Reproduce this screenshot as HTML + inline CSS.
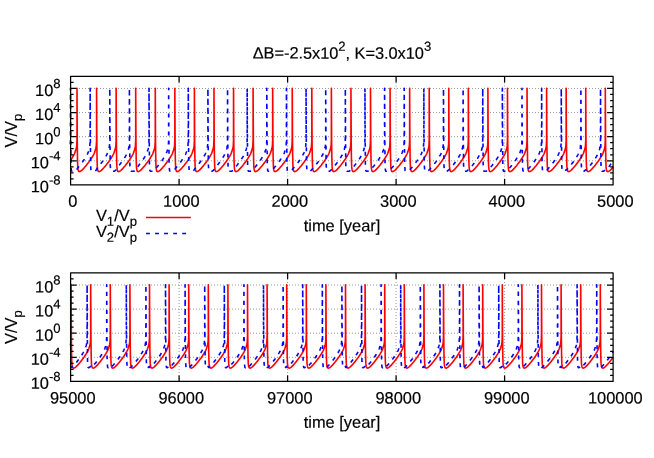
<!DOCTYPE html>
<html><head><meta charset="utf-8"><title>plot</title>
<style>
html,body{margin:0;padding:0;background:#fff}
svg{display:block;will-change:transform}
text{font-family:"Liberation Sans",sans-serif;font-size:16.4px;fill:#000;stroke:#000;stroke-width:.18}
.g{fill:none;stroke:#999;stroke-width:1;stroke-dasharray:1 2;stroke-dashoffset:.6}
.r{fill:none;stroke:#f00;stroke-width:1.6;stroke-linejoin:round}
.b{fill:none;stroke:#00f;stroke-width:1.6;stroke-dasharray:3.9 5.15;stroke-linejoin:round}
.k{fill:none;stroke:#000;stroke-width:1.25;stroke-linejoin:round}
</style></head><body>
<svg width="654" height="458" viewBox="0 0 654 458">
<rect width="654" height="458" fill="#fff"/>
<text transform="translate(341.9 58.7) rotate(0.1)" text-anchor="middle" letter-spacing="-0.05">ΔB=-2.5x10<tspan dy="-8.0" font-size="13.1">2</tspan><tspan dy="8.0">, K=3.0x10</tspan><tspan dy="-8.0" font-size="13.1">3</tspan></text>
<path d="M70.6 88.46H613.1" class="g"/>
<path d="M70.6 112.57H613.1" class="g"/>
<path d="M70.6 136.68H613.1" class="g"/>
<path d="M70.6 160.79H613.1" class="g"/>
<path d="M179.1 184.9V76.4" class="g"/>
<path d="M287.6 184.9V76.4" class="g"/>
<path d="M396.1 184.9V76.4" class="g"/>
<path d="M504.6 184.9V76.4" class="g"/>
<path d="M70.3 160.63L70.49 160.36L70.75 159.97L71.01 159.58L71.27 159.19L71.53 158.79L71.79 158.38L72.05 157.96L72.31 157.54L72.57 157.11L72.83 156.68L73.09 156.23L73.35 155.78L73.61 155.33L73.88 154.89L74.14 154.42L74.4 153.91L74.66 153.3L74.92 152.63L75.18 151.89L75.44 151.09L75.7 150.31L75.96 149.64L76.22 148.82L76.48 147.27L76.74 145.53L77 139.9L77 88.3L77 88.3L77.25 139.9L77.5 159.9L77.75 166.9L78.1 169.7L78.6 171.23L78.86 171.4L79.12 171.52L79.38 171.59L79.64 171.6L79.9 171.52L80.16 171.4L80.42 171.27L80.68 171.13L80.94 170.96L81.2 170.78L81.46 170.58L81.72 170.37L81.99 170.15L82.25 169.91L82.51 169.66L82.77 169.4L83.03 169.14L83.29 168.86L83.55 168.57L83.81 168.28L84.07 167.98L84.33 167.67L84.59 167.38L84.85 167.08L85.11 166.79L85.37 166.5L85.63 166.2L85.89 165.89L86.15 165.57L86.41 165.24L86.67 164.89L86.93 164.54L87.19 164.19L87.45 163.85L87.71 163.51L87.97 163.18L88.23 162.85L88.49 162.52L88.76 162.18L89.02 161.83L89.28 161.48L89.54 161.11L89.8 160.74L90.06 160.36L90.32 159.97L90.58 159.58L90.84 159.19L91.1 158.79L91.36 158.38L91.62 157.96L91.88 157.54L92.14 157.11L92.4 156.68L92.66 156.23L92.92 155.78L93.18 155.33L93.44 154.89L93.7 154.42L93.96 153.91L94.22 153.3L94.48 152.63L94.74 151.89L95 151.09L95.27 150.31L95.53 149.64L95.79 148.82L96.05 147.27L96.31 145.53L96.57 139.9L96.57 88.3L96.57 88.3L96.82 139.9L97.07 159.9L97.32 166.9L97.67 169.7L98.17 171.23L98.43 171.4L98.69 171.52L98.95 171.59L99.21 171.6L99.47 171.52L99.73 171.4L99.99 171.27L100.25 171.13L100.51 170.96L100.77 170.78L101.03 170.58L101.29 170.37L101.55 170.15L101.81 169.91L102.07 169.66L102.33 169.4L102.59 169.14L102.85 168.86L103.11 168.57L103.37 168.28L103.64 167.98L103.9 167.67L104.16 167.38L104.42 167.08L104.68 166.79L104.94 166.5L105.2 166.2L105.46 165.89L105.72 165.57L105.98 165.24L106.24 164.89L106.5 164.54L106.76 164.19L107.02 163.85L107.28 163.51L107.54 163.18L107.8 162.85L108.06 162.52L108.32 162.18L108.58 161.83L108.84 161.48L109.1 161.11L109.36 160.74L109.62 160.36L109.88 159.97L110.15 159.58L110.41 159.19L110.67 158.79L110.93 158.38L111.19 157.96L111.45 157.54L111.71 157.11L111.97 156.68L112.23 156.23L112.49 155.78L112.75 155.33L113.01 154.89L113.27 154.42L113.53 153.91L113.79 153.3L114.05 152.63L114.31 151.89L114.57 151.09L114.83 150.31L115.09 149.64L115.35 148.82L115.61 147.27L115.87 145.53L116.13 139.9L116.13 88.3L116.13 88.3L116.38 139.9L116.63 159.9L116.88 166.9L117.23 169.7L117.73 171.23L117.99 171.4L118.25 171.52L118.52 171.59L118.78 171.6L119.04 171.52L119.3 171.4L119.56 171.27L119.82 171.13L120.08 170.96L120.34 170.78L120.6 170.58L120.86 170.37L121.12 170.15L121.38 169.91L121.64 169.66L121.9 169.4L122.16 169.14L122.42 168.86L122.68 168.57L122.94 168.28L123.2 167.98L123.46 167.67L123.72 167.38L123.98 167.08L124.24 166.79L124.5 166.5L124.76 166.2L125.02 165.89L125.29 165.57L125.55 165.24L125.81 164.89L126.07 164.54L126.33 164.19L126.59 163.85L126.85 163.51L127.11 163.18L127.37 162.85L127.63 162.52L127.89 162.18L128.15 161.83L128.41 161.48L128.67 161.11L128.93 160.74L129.19 160.36L129.45 159.97L129.71 159.58L129.97 159.19L130.23 158.79L130.49 158.38L130.75 157.96L131.01 157.54L131.27 157.11L131.53 156.68L131.8 156.23L132.06 155.78L132.32 155.33L132.58 154.89L132.84 154.42L133.1 153.91L133.36 153.3L133.62 152.63L133.88 151.89L134.14 151.09L134.4 150.31L134.66 149.64L134.92 148.82L135.18 147.27L135.44 145.53L135.7 139.9L135.7 88.3L135.7 88.3L135.95 139.9L136.2 159.9L136.45 166.9L136.8 169.7L137.3 171.23L137.56 171.4L137.82 171.52L138.08 171.59L138.34 171.6L138.6 171.52L138.86 171.4L139.12 171.27L139.38 171.13L139.64 170.96L139.9 170.78L140.17 170.58L140.43 170.37L140.69 170.15L140.95 169.91L141.21 169.66L141.47 169.4L141.73 169.14L141.99 168.86L142.25 168.57L142.51 168.28L142.77 167.98L143.03 167.67L143.29 167.38L143.55 167.08L143.81 166.79L144.07 166.5L144.33 166.2L144.59 165.89L144.85 165.57L145.11 165.24L145.37 164.89L145.63 164.54L145.89 164.19L146.15 163.85L146.41 163.51L146.68 163.18L146.94 162.85L147.2 162.52L147.46 162.18L147.72 161.83L147.98 161.48L148.24 161.11L148.5 160.74L148.76 160.36L149.02 159.97L149.28 159.58L149.54 159.19L149.8 158.79L150.06 158.38L150.32 157.96L150.58 157.54L150.84 157.11L151.1 156.68L151.36 156.23L151.62 155.78L151.88 155.33L152.14 154.89L152.4 154.42L152.66 153.91L152.92 153.3L153.18 152.63L153.45 151.89L153.71 151.09L153.97 150.31L154.23 149.64L154.49 148.82L154.75 147.27L155.01 145.53L155.27 139.9L155.27 88.3L155.27 88.3L155.52 139.9L155.77 159.9L156.02 166.9L156.37 169.7L156.87 171.23L157.13 171.4L157.39 171.52L157.65 171.59L157.91 171.6L158.17 171.52L158.43 171.4L158.69 171.27L158.95 171.13L159.21 170.96L159.47 170.78L159.73 170.58L159.99 170.37L160.25 170.15L160.51 169.91L160.77 169.66L161.03 169.4L161.29 169.14L161.56 168.86L161.82 168.57L162.08 168.28L162.34 167.98L162.6 167.67L162.86 167.38L163.12 167.08L163.38 166.79L163.64 166.5L163.9 166.2L164.16 165.89L164.42 165.57L164.68 165.24L164.94 164.89L165.2 164.54L165.46 164.19L165.72 163.85L165.98 163.51L166.24 163.18L166.5 162.85L166.76 162.52L167.02 162.18L167.28 161.83L167.54 161.48L167.8 161.11L168.06 160.74L168.33 160.36L168.59 159.97L168.85 159.58L169.11 159.19L169.37 158.79L169.63 158.38L169.89 157.96L170.15 157.54L170.41 157.11L170.67 156.68L170.93 156.23L171.19 155.78L171.45 155.33L171.71 154.89L171.97 154.42L172.23 153.91L172.49 153.3L172.75 152.63L173.01 151.89L173.27 151.09L173.53 150.31L173.79 149.64L174.05 148.82L174.31 147.27L174.57 145.53L174.84 139.9L174.84 88.3L174.84 88.3L175.09 139.9L175.34 159.9L175.59 166.9L175.94 169.7L176.44 171.23L176.7 171.4L176.96 171.52L177.22 171.59L177.48 171.6L177.74 171.52L178 171.4L178.26 171.27L178.52 171.13L178.78 170.96L179.04 170.78L179.3 170.58L179.56 170.37L179.82 170.15L180.08 169.91L180.34 169.66L180.6 169.4L180.86 169.14L181.12 168.86L181.38 168.57L181.64 168.28L181.9 167.98L182.16 167.67L182.42 167.38L182.68 167.08L182.94 166.79L183.21 166.5L183.47 166.2L183.73 165.89L183.99 165.57L184.25 165.24L184.51 164.89L184.77 164.54L185.03 164.19L185.29 163.85L185.55 163.51L185.81 163.18L186.07 162.85L186.33 162.52L186.59 162.18L186.85 161.83L187.11 161.48L187.37 161.11L187.63 160.74L187.89 160.36L188.15 159.97L188.41 159.58L188.67 159.19L188.93 158.79L189.19 158.38L189.45 157.96L189.71 157.54L189.98 157.11L190.24 156.68L190.5 156.23L190.76 155.78L191.02 155.33L191.28 154.89L191.54 154.42L191.8 153.91L192.06 153.3L192.32 152.63L192.58 151.89L192.84 151.09L193.1 150.31L193.36 149.64L193.62 148.82L193.88 147.27L194.14 145.53L194.4 139.9L194.4 88.3L194.4 88.3L194.65 139.9L194.9 159.9L195.15 166.9L195.5 169.7L196 171.23L196.26 171.4L196.52 171.52L196.78 171.59L197.04 171.6L197.3 171.52L197.56 171.4L197.82 171.27L198.09 171.13L198.35 170.96L198.61 170.78L198.87 170.58L199.13 170.37L199.39 170.15L199.65 169.91L199.91 169.66L200.17 169.4L200.43 169.14L200.69 168.86L200.95 168.57L201.21 168.28L201.47 167.98L201.73 167.67L201.99 167.38L202.25 167.08L202.51 166.79L202.77 166.5L203.03 166.2L203.29 165.89L203.55 165.57L203.81 165.24L204.07 164.89L204.33 164.54L204.59 164.19L204.86 163.85L205.12 163.51L205.38 163.18L205.64 162.85L205.9 162.52L206.16 162.18L206.42 161.83L206.68 161.48L206.94 161.11L207.2 160.74L207.46 160.36L207.72 159.97L207.98 159.58L208.24 159.19L208.5 158.79L208.76 158.38L209.02 157.96L209.28 157.54L209.54 157.11L209.8 156.68L210.06 156.23L210.32 155.78L210.58 155.33L210.84 154.89L211.1 154.42L211.37 153.91L211.63 153.3L211.89 152.63L212.15 151.89L212.41 151.09L212.67 150.31L212.93 149.64L213.19 148.82L213.45 147.27L213.71 145.53L213.97 139.9L213.97 88.3L213.97 88.3L214.22 139.9L214.47 159.9L214.72 166.9L215.07 169.7L215.57 171.23L215.83 171.4L216.09 171.52L216.35 171.59L216.61 171.6L216.87 171.52L217.13 171.4L217.39 171.27L217.65 171.13L217.91 170.96L218.17 170.78L218.43 170.58L218.69 170.37L218.95 170.15L219.21 169.91L219.47 169.66L219.74 169.4L220 169.14L220.26 168.86L220.52 168.57L220.78 168.28L221.04 167.98L221.3 167.67L221.56 167.38L221.82 167.08L222.08 166.79L222.34 166.5L222.6 166.2L222.86 165.89L223.12 165.57L223.38 165.24L223.64 164.89L223.9 164.54L224.16 164.19L224.42 163.85L224.68 163.51L224.94 163.18L225.2 162.85L225.46 162.52L225.72 162.18L225.98 161.83L226.25 161.48L226.51 161.11L226.77 160.74L227.03 160.36L227.29 159.97L227.55 159.58L227.81 159.19L228.07 158.79L228.33 158.38L228.59 157.96L228.85 157.54L229.11 157.11L229.37 156.68L229.63 156.23L229.89 155.78L230.15 155.33L230.41 154.89L230.67 154.42L230.93 153.91L231.19 153.3L231.45 152.63L231.71 151.89L231.97 151.09L232.23 150.31L232.49 149.64L232.75 148.82L233.02 147.27L233.28 145.53L233.54 139.9L233.54 88.3L233.54 88.3L233.79 139.9L234.04 159.9L234.29 166.9L234.64 169.7L235.14 171.23L235.4 171.4L235.66 171.52L235.92 171.59L236.18 171.6L236.44 171.52L236.7 171.4L236.96 171.27L237.22 171.13L237.48 170.96L237.74 170.78L238 170.58L238.26 170.37L238.52 170.15L238.78 169.91L239.04 169.66L239.3 169.4L239.56 169.14L239.82 168.86L240.08 168.57L240.34 168.28L240.6 167.98L240.86 167.67L241.12 167.38L241.39 167.08L241.65 166.79L241.91 166.5L242.17 166.2L242.43 165.89L242.69 165.57L242.95 165.24L243.21 164.89L243.47 164.54L243.73 164.19L243.99 163.85L244.25 163.51L244.51 163.18L244.77 162.85L245.03 162.52L245.29 162.18L245.55 161.83L245.81 161.48L246.07 161.11L246.33 160.74L246.59 160.36L246.85 159.97L247.11 159.58L247.37 159.19L247.63 158.79L247.9 158.38L248.16 157.96L248.42 157.54L248.68 157.11L248.94 156.68L249.2 156.23L249.46 155.78L249.72 155.33L249.98 154.89L250.24 154.42L250.5 153.91L250.76 153.3L251.02 152.63L251.28 151.89L251.54 151.09L251.8 150.31L252.06 149.64L252.32 148.82L252.58 147.27L252.84 145.53L253.1 139.9L253.1 88.3L253.1 88.3L253.35 139.9L253.6 159.9L253.85 166.9L254.2 169.7L254.7 171.23L254.96 171.4L255.22 171.52L255.48 171.59L255.74 171.6L256 171.52L256.27 171.4L256.53 171.27L256.79 171.13L257.05 170.96L257.31 170.78L257.57 170.58L257.83 170.37L258.09 170.15L258.35 169.91L258.61 169.66L258.87 169.4L259.13 169.14L259.39 168.86L259.65 168.57L259.91 168.28L260.17 167.98L260.43 167.67L260.69 167.38L260.95 167.08L261.21 166.79L261.47 166.5L261.73 166.2L261.99 165.89L262.25 165.57L262.51 165.24L262.78 164.89L263.04 164.54L263.3 164.19L263.56 163.85L263.82 163.51L264.08 163.18L264.34 162.85L264.6 162.52L264.86 162.18L265.12 161.83L265.38 161.48L265.64 161.11L265.9 160.74L266.16 160.36L266.42 159.97L266.68 159.58L266.94 159.19L267.2 158.79L267.46 158.38L267.72 157.96L267.98 157.54L268.24 157.11L268.5 156.68L268.76 156.23L269.02 155.78L269.28 155.33L269.55 154.89L269.81 154.42L270.07 153.91L270.33 153.3L270.59 152.63L270.85 151.89L271.11 151.09L271.37 150.31L271.63 149.64L271.89 148.82L272.15 147.27L272.41 145.53L272.67 139.9L272.67 88.3L272.67 88.3L272.92 139.9L273.17 159.9L273.42 166.9L273.77 169.7L274.27 171.23L274.53 171.4L274.79 171.52L275.05 171.59L275.31 171.6L275.57 171.52L275.83 171.4L276.09 171.27L276.35 171.13L276.61 170.96L276.87 170.78L277.13 170.58L277.39 170.37L277.66 170.15L277.92 169.91L278.18 169.66L278.44 169.4L278.7 169.14L278.96 168.86L279.22 168.57L279.48 168.28L279.74 167.98L280 167.67L280.26 167.38L280.52 167.08L280.78 166.79L281.04 166.5L281.3 166.2L281.56 165.89L281.82 165.57L282.08 165.24L282.34 164.89L282.6 164.54L282.86 164.19L283.12 163.85L283.38 163.51L283.64 163.18L283.9 162.85L284.16 162.52L284.43 162.18L284.69 161.83L284.95 161.48L285.21 161.11L285.47 160.74L285.73 160.36L285.99 159.97L286.25 159.58L286.51 159.19L286.77 158.79L287.03 158.38L287.29 157.96L287.55 157.54L287.81 157.11L288.07 156.68L288.33 156.23L288.59 155.78L288.85 155.33L289.11 154.89L289.37 154.42L289.63 153.91L289.89 153.3L290.15 152.63L290.41 151.89L290.67 151.09L290.94 150.31L291.2 149.64L291.46 148.82L291.72 147.27L291.98 145.53L292.24 139.9L292.24 88.3L292.24 88.3L292.49 139.9L292.74 159.9L292.99 166.9L293.34 169.7L293.84 171.23L294.1 171.4L294.36 171.52L294.62 171.59L294.88 171.6L295.14 171.52L295.4 171.4L295.66 171.27L295.92 171.13L296.18 170.96L296.44 170.78L296.7 170.58L296.96 170.37L297.22 170.15L297.48 169.91L297.74 169.66L298 169.4L298.26 169.14L298.52 168.86L298.78 168.57L299.04 168.28L299.31 167.98L299.57 167.67L299.83 167.38L300.09 167.08L300.35 166.79L300.61 166.5L300.87 166.2L301.13 165.89L301.39 165.57L301.65 165.24L301.91 164.89L302.17 164.54L302.43 164.19L302.69 163.85L302.95 163.51L303.21 163.18L303.47 162.85L303.73 162.52L303.99 162.18L304.25 161.83L304.51 161.48L304.77 161.11L305.03 160.74L305.29 160.36L305.55 159.97L305.81 159.58L306.08 159.19L306.34 158.79L306.6 158.38L306.86 157.96L307.12 157.54L307.38 157.11L307.64 156.68L307.9 156.23L308.16 155.78L308.42 155.33L308.68 154.89L308.94 154.42L309.2 153.91L309.46 153.3L309.72 152.63L309.98 151.89L310.24 151.09L310.5 150.31L310.76 149.64L311.02 148.82L311.28 147.27L311.54 145.53L311.8 139.9L311.8 88.3L311.8 88.3L312.05 139.9L312.3 159.9L312.55 166.9L312.9 169.7L313.4 171.23L313.66 171.4L313.92 171.52L314.19 171.59L314.45 171.6L314.71 171.52L314.97 171.4L315.23 171.27L315.49 171.13L315.75 170.96L316.01 170.78L316.27 170.58L316.53 170.37L316.79 170.15L317.05 169.91L317.31 169.66L317.57 169.4L317.83 169.14L318.09 168.86L318.35 168.57L318.61 168.28L318.87 167.98L319.13 167.67L319.39 167.38L319.65 167.08L319.91 166.79L320.17 166.5L320.43 166.2L320.69 165.89L320.96 165.57L321.22 165.24L321.48 164.89L321.74 164.54L322 164.19L322.26 163.85L322.52 163.51L322.78 163.18L323.04 162.85L323.3 162.52L323.56 162.18L323.82 161.83L324.08 161.48L324.34 161.11L324.6 160.74L324.86 160.36L325.12 159.97L325.38 159.58L325.64 159.19L325.9 158.79L326.16 158.38L326.42 157.96L326.68 157.54L326.94 157.11L327.2 156.68L327.47 156.23L327.73 155.78L327.99 155.33L328.25 154.89L328.51 154.42L328.77 153.91L329.03 153.3L329.29 152.63L329.55 151.89L329.81 151.09L330.07 150.31L330.33 149.64L330.59 148.82L330.85 147.27L331.11 145.53L331.37 139.9L331.37 88.3L331.37 88.3L331.62 139.9L331.87 159.9L332.12 166.9L332.47 169.7L332.97 171.23L333.23 171.4L333.49 171.52L333.75 171.59L334.01 171.6L334.27 171.52L334.53 171.4L334.79 171.27L335.05 171.13L335.31 170.96L335.57 170.78L335.84 170.58L336.1 170.37L336.36 170.15L336.62 169.91L336.88 169.66L337.14 169.4L337.4 169.14L337.66 168.86L337.92 168.57L338.18 168.28L338.44 167.98L338.7 167.67L338.96 167.38L339.22 167.08L339.48 166.79L339.74 166.5L340 166.2L340.26 165.89L340.52 165.57L340.78 165.24L341.04 164.89L341.3 164.54L341.56 164.19L341.82 163.85L342.08 163.51L342.35 163.18L342.61 162.85L342.87 162.52L343.13 162.18L343.39 161.83L343.65 161.48L343.91 161.11L344.17 160.74L344.43 160.36L344.69 159.97L344.95 159.58L345.21 159.19L345.47 158.79L345.73 158.38L345.99 157.96L346.25 157.54L346.51 157.11L346.77 156.68L347.03 156.23L347.29 155.78L347.55 155.33L347.81 154.89L348.07 154.42L348.33 153.91L348.59 153.3L348.85 152.63L349.12 151.89L349.38 151.09L349.64 150.31L349.9 149.64L350.16 148.82L350.42 147.27L350.68 145.53L350.94 139.9L350.94 88.3L350.94 88.3L351.19 139.9L351.44 159.9L351.69 166.9L352.04 169.7L352.54 171.23L352.8 171.4L353.06 171.52L353.32 171.59L353.58 171.6L353.84 171.52L354.1 171.4L354.36 171.27L354.62 171.13L354.88 170.96L355.14 170.78L355.4 170.58L355.66 170.37L355.92 170.15L356.18 169.91L356.44 169.66L356.7 169.4L356.96 169.14L357.23 168.86L357.49 168.57L357.75 168.28L358.01 167.98L358.27 167.67L358.53 167.38L358.79 167.08L359.05 166.79L359.31 166.5L359.57 166.2L359.83 165.89L360.09 165.57L360.35 165.24L360.61 164.89L360.87 164.54L361.13 164.19L361.39 163.85L361.65 163.51L361.91 163.18L362.17 162.85L362.43 162.52L362.69 162.18L362.95 161.83L363.21 161.48L363.47 161.11L363.73 160.74L364 160.36L364.26 159.97L364.52 159.58L364.78 159.19L365.04 158.79L365.3 158.38L365.56 157.96L365.82 157.54L366.08 157.11L366.34 156.68L366.6 156.23L366.86 155.78L367.12 155.33L367.38 154.89L367.64 154.42L367.9 153.91L368.16 153.3L368.42 152.63L368.68 151.89L368.94 151.09L369.2 150.31L369.46 149.64L369.72 148.82L369.98 147.27L370.24 145.53L370.5 139.9L370.5 88.3L370.5 88.3L370.75 139.9L371 159.9L371.25 166.9L371.61 169.7L372.11 171.23L372.37 171.4L372.63 171.52L372.89 171.59L373.15 171.6L373.41 171.52L373.67 171.4L373.93 171.27L374.19 171.13L374.45 170.96L374.71 170.78L374.97 170.58L375.23 170.37L375.49 170.15L375.75 169.91L376.01 169.66L376.27 169.4L376.53 169.14L376.79 168.86L377.05 168.57L377.31 168.28L377.57 167.98L377.83 167.67L378.09 167.38L378.35 167.08L378.61 166.79L378.88 166.5L379.14 166.2L379.4 165.89L379.66 165.57L379.92 165.24L380.18 164.89L380.44 164.54L380.7 164.19L380.96 163.85L381.22 163.51L381.48 163.18L381.74 162.85L382 162.52L382.26 162.18L382.52 161.83L382.78 161.48L383.04 161.11L383.3 160.74L383.56 160.36L383.82 159.97L384.08 159.58L384.34 159.19L384.6 158.79L384.86 158.38L385.12 157.96L385.38 157.54L385.65 157.11L385.91 156.68L386.17 156.23L386.43 155.78L386.69 155.33L386.95 154.89L387.21 154.42L387.47 153.91L387.73 153.3L387.99 152.63L388.25 151.89L388.51 151.09L388.77 150.31L389.03 149.64L389.29 148.82L389.55 147.27L389.81 145.53L390.07 139.9L390.07 88.3L390.07 88.3L390.32 139.9L390.57 159.9L390.82 166.9L391.17 169.7L391.67 171.23L391.93 171.4L392.19 171.52L392.45 171.59L392.71 171.6L392.97 171.52L393.23 171.4L393.49 171.27L393.76 171.13L394.02 170.96L394.28 170.78L394.54 170.58L394.8 170.37L395.06 170.15L395.32 169.91L395.58 169.66L395.84 169.4L396.1 169.14L396.36 168.86L396.62 168.57L396.88 168.28L397.14 167.98L397.4 167.67L397.66 167.38L397.92 167.08L398.18 166.79L398.44 166.5L398.7 166.2L398.96 165.89L399.22 165.57L399.48 165.24L399.74 164.89L400 164.54L400.26 164.19L400.53 163.85L400.79 163.51L401.05 163.18L401.31 162.85L401.57 162.52L401.83 162.18L402.09 161.83L402.35 161.48L402.61 161.11L402.87 160.74L403.13 160.36L403.39 159.97L403.65 159.58L403.91 159.19L404.17 158.79L404.43 158.38L404.69 157.96L404.95 157.54L405.21 157.11L405.47 156.68L405.73 156.23L405.99 155.78L406.25 155.33L406.51 154.89L406.77 154.42L407.04 153.91L407.3 153.3L407.56 152.63L407.82 151.89L408.08 151.09L408.34 150.31L408.6 149.64L408.86 148.82L409.12 147.27L409.38 145.53L409.64 139.9L409.64 88.3L409.64 88.3L409.89 139.9L410.14 159.9L410.39 166.9L410.74 169.7L411.24 171.23L411.5 171.4L411.76 171.52L412.02 171.59L412.28 171.6L412.54 171.52L412.8 171.4L413.06 171.27L413.32 171.13L413.58 170.96L413.84 170.78L414.1 170.58L414.36 170.37L414.62 170.15L414.88 169.91L415.14 169.66L415.41 169.4L415.67 169.14L415.93 168.86L416.19 168.57L416.45 168.28L416.71 167.98L416.97 167.67L417.23 167.38L417.49 167.08L417.75 166.79L418.01 166.5L418.27 166.2L418.53 165.89L418.79 165.57L419.05 165.24L419.31 164.89L419.57 164.54L419.83 164.19L420.09 163.85L420.35 163.51L420.61 163.18L420.87 162.85L421.13 162.52L421.39 162.18L421.65 161.83L421.92 161.48L422.18 161.11L422.44 160.74L422.7 160.36L422.96 159.97L423.22 159.58L423.48 159.19L423.74 158.79L424 158.38L424.26 157.96L424.52 157.54L424.78 157.11L425.04 156.68L425.3 156.23L425.56 155.78L425.82 155.33L426.08 154.89L426.34 154.42L426.6 153.91L426.86 153.3L427.12 152.63L427.38 151.89L427.64 151.09L427.9 150.31L428.16 149.64L428.42 148.82L428.69 147.27L428.95 145.53L429.21 139.9L429.21 88.3L429.21 88.3L429.46 139.9L429.71 159.9L429.96 166.9L430.31 169.7L430.81 171.23L431.07 171.4L431.33 171.52L431.59 171.59L431.85 171.6L432.11 171.52L432.37 171.4L432.63 171.27L432.89 171.13L433.15 170.96L433.41 170.78L433.67 170.58L433.93 170.37L434.19 170.15L434.45 169.91L434.71 169.66L434.97 169.4L435.23 169.14L435.49 168.86L435.75 168.57L436.01 168.28L436.27 167.98L436.53 167.67L436.8 167.38L437.06 167.08L437.32 166.79L437.58 166.5L437.84 166.2L438.1 165.89L438.36 165.57L438.62 165.24L438.88 164.89L439.14 164.54L439.4 164.19L439.66 163.85L439.92 163.51L440.18 163.18L440.44 162.85L440.7 162.52L440.96 162.18L441.22 161.83L441.48 161.48L441.74 161.11L442 160.74L442.26 160.36L442.52 159.97L442.78 159.58L443.04 159.19L443.3 158.79L443.57 158.38L443.83 157.96L444.09 157.54L444.35 157.11L444.61 156.68L444.87 156.23L445.13 155.78L445.39 155.33L445.65 154.89L445.91 154.42L446.17 153.91L446.43 153.3L446.69 152.63L446.95 151.89L447.21 151.09L447.47 150.31L447.73 149.64L447.99 148.82L448.25 147.27L448.51 145.53L448.77 139.9L448.77 88.3L448.77 88.3L449.02 139.9L449.27 159.9L449.52 166.9L449.87 169.7L450.37 171.23L450.63 171.4L450.89 171.52L451.15 171.59L451.41 171.6L451.67 171.52L451.94 171.4L452.2 171.27L452.46 171.13L452.72 170.96L452.98 170.78L453.24 170.58L453.5 170.37L453.76 170.15L454.02 169.91L454.28 169.66L454.54 169.4L454.8 169.14L455.06 168.86L455.32 168.57L455.58 168.28L455.84 167.98L456.1 167.67L456.36 167.38L456.62 167.08L456.88 166.79L457.14 166.5L457.4 166.2L457.66 165.89L457.92 165.57L458.18 165.24L458.45 164.89L458.71 164.54L458.97 164.19L459.23 163.85L459.49 163.51L459.75 163.18L460.01 162.85L460.27 162.52L460.53 162.18L460.79 161.83L461.05 161.48L461.31 161.11L461.57 160.74L461.83 160.36L462.09 159.97L462.35 159.58L462.61 159.19L462.87 158.79L463.13 158.38L463.39 157.96L463.65 157.54L463.91 157.11L464.17 156.68L464.43 156.23L464.69 155.78L464.95 155.33L465.22 154.89L465.48 154.42L465.74 153.91L466 153.3L466.26 152.63L466.52 151.89L466.78 151.09L467.04 150.31L467.3 149.64L467.56 148.82L467.82 147.27L468.08 145.53L468.34 139.9L468.34 88.3L468.34 88.3L468.59 139.9L468.84 159.9L469.09 166.9L469.44 169.7L469.94 171.23L470.2 171.4L470.46 171.52L470.72 171.59L470.98 171.6L471.24 171.52L471.5 171.4L471.76 171.27L472.02 171.13L472.28 170.96L472.54 170.78L472.8 170.58L473.06 170.37L473.33 170.15L473.59 169.91L473.85 169.66L474.11 169.4L474.37 169.14L474.63 168.86L474.89 168.57L475.15 168.28L475.41 167.98L475.67 167.67L475.93 167.38L476.19 167.08L476.45 166.79L476.71 166.5L476.97 166.2L477.23 165.89L477.49 165.57L477.75 165.24L478.01 164.89L478.27 164.54L478.53 164.19L478.79 163.85L479.05 163.51L479.31 163.18L479.57 162.85L479.83 162.52L480.1 162.18L480.36 161.83L480.62 161.48L480.88 161.11L481.14 160.74L481.4 160.36L481.66 159.97L481.92 159.58L482.18 159.19L482.44 158.79L482.7 158.38L482.96 157.96L483.22 157.54L483.48 157.11L483.74 156.68L484 156.23L484.26 155.78L484.52 155.33L484.78 154.89L485.04 154.42L485.3 153.91L485.56 153.3L485.82 152.63L486.08 151.89L486.34 151.09L486.61 150.31L486.87 149.64L487.13 148.82L487.39 147.27L487.65 145.53L487.91 139.9L487.91 88.3L487.91 88.3L488.16 139.9L488.41 159.9L488.66 166.9L489.01 169.7L489.51 171.23L489.77 171.4L490.03 171.52L490.29 171.59L490.55 171.6L490.81 171.52L491.07 171.4L491.33 171.27L491.59 171.13L491.85 170.96L492.11 170.78L492.37 170.58L492.63 170.37L492.89 170.15L493.15 169.91L493.41 169.66L493.67 169.4L493.93 169.14L494.19 168.86L494.45 168.57L494.71 168.28L494.98 167.98L495.24 167.67L495.5 167.38L495.76 167.08L496.02 166.79L496.28 166.5L496.54 166.2L496.8 165.89L497.06 165.57L497.32 165.24L497.58 164.89L497.84 164.54L498.1 164.19L498.36 163.85L498.62 163.51L498.88 163.18L499.14 162.85L499.4 162.52L499.66 162.18L499.92 161.83L500.18 161.48L500.44 161.11L500.7 160.74L500.96 160.36L501.22 159.97L501.49 159.58L501.75 159.19L502.01 158.79L502.27 158.38L502.53 157.96L502.79 157.54L503.05 157.11L503.31 156.68L503.57 156.23L503.83 155.78L504.09 155.33L504.35 154.89L504.61 154.42L504.87 153.91L505.13 153.3L505.39 152.63L505.65 151.89L505.91 151.09L506.17 150.31L506.43 149.64L506.69 148.82L506.95 147.27L507.21 145.53L507.47 139.9L507.47 88.3L507.47 88.3L507.72 139.9L507.97 159.9L508.22 166.9L508.57 169.7L509.07 171.23L509.33 171.4L509.59 171.52L509.86 171.59L510.12 171.6L510.38 171.52L510.64 171.4L510.9 171.27L511.16 171.13L511.42 170.96L511.68 170.78L511.94 170.58L512.2 170.37L512.46 170.15L512.72 169.91L512.98 169.66L513.24 169.4L513.5 169.14L513.76 168.86L514.02 168.57L514.28 168.28L514.54 167.98L514.8 167.67L515.06 167.38L515.32 167.08L515.58 166.79L515.84 166.5L516.1 166.2L516.36 165.89L516.63 165.57L516.89 165.24L517.15 164.89L517.41 164.54L517.67 164.19L517.93 163.85L518.19 163.51L518.45 163.18L518.71 162.85L518.97 162.52L519.23 162.18L519.49 161.83L519.75 161.48L520.01 161.11L520.27 160.74L520.53 160.36L520.79 159.97L521.05 159.58L521.31 159.19L521.57 158.79L521.83 158.38L522.09 157.96L522.35 157.54L522.61 157.11L522.87 156.68L523.14 156.23L523.4 155.78L523.66 155.33L523.92 154.89L524.18 154.42L524.44 153.91L524.7 153.3L524.96 152.63L525.22 151.89L525.48 151.09L525.74 150.31L526 149.64L526.26 148.82L526.52 147.27L526.78 145.53L527.04 139.9L527.04 88.3L527.04 88.3L527.29 139.9L527.54 159.9L527.79 166.9L528.14 169.7L528.64 171.23L528.9 171.4L529.16 171.52L529.42 171.59L529.68 171.6L529.94 171.52L530.2 171.4L530.46 171.27L530.72 171.13L530.98 170.96L531.24 170.78L531.51 170.58L531.77 170.37L532.03 170.15L532.29 169.91L532.55 169.66L532.81 169.4L533.07 169.14L533.33 168.86L533.59 168.57L533.85 168.28L534.11 167.98L534.37 167.67L534.63 167.38L534.89 167.08L535.15 166.79L535.41 166.5L535.67 166.2L535.93 165.89L536.19 165.57L536.45 165.24L536.71 164.89L536.97 164.54L537.23 164.19L537.49 163.85L537.75 163.51L538.02 163.18L538.28 162.85L538.54 162.52L538.8 162.18L539.06 161.83L539.32 161.48L539.58 161.11L539.84 160.74L540.1 160.36L540.36 159.97L540.62 159.58L540.88 159.19L541.14 158.79L541.4 158.38L541.66 157.96L541.92 157.54L542.18 157.11L542.44 156.68L542.7 156.23L542.96 155.78L543.22 155.33L543.48 154.89L543.74 154.42L544 153.91L544.26 153.3L544.52 152.63L544.79 151.89L545.05 151.09L545.31 150.31L545.57 149.64L545.83 148.82L546.09 147.27L546.35 145.53L546.61 139.9L546.61 88.3L546.61 88.3L546.86 139.9L547.11 159.9L547.36 166.9L547.71 169.7L548.21 171.23L548.47 171.4L548.73 171.52L548.99 171.59L549.25 171.6L549.51 171.52L549.77 171.4L550.03 171.27L550.29 171.13L550.55 170.96L550.81 170.78L551.07 170.58L551.33 170.37L551.59 170.15L551.85 169.91L552.11 169.66L552.37 169.4L552.63 169.14L552.9 168.86L553.16 168.57L553.42 168.28L553.68 167.98L553.94 167.67L554.2 167.38L554.46 167.08L554.72 166.79L554.98 166.5L555.24 166.2L555.5 165.89L555.76 165.57L556.02 165.24L556.28 164.89L556.54 164.54L556.8 164.19L557.06 163.85L557.32 163.51L557.58 163.18L557.84 162.85L558.1 162.52L558.36 162.18L558.62 161.83L558.88 161.48L559.14 161.11L559.4 160.74L559.67 160.36L559.93 159.97L560.19 159.58L560.45 159.19L560.71 158.79L560.97 158.38L561.23 157.96L561.49 157.54L561.75 157.11L562.01 156.68L562.27 156.23L562.53 155.78L562.79 155.33L563.05 154.89L563.31 154.42L563.57 153.91L563.83 153.3L564.09 152.63L564.35 151.89L564.61 151.09L564.87 150.31L565.13 149.64L565.39 148.82L565.65 147.27L565.91 145.53L566.17 139.9L566.17 88.3L566.17 88.3L566.42 139.9L566.67 159.9L566.92 166.9L567.27 169.7L567.77 171.23L568.04 171.4L568.3 171.52L568.56 171.59L568.82 171.6L569.08 171.52L569.34 171.4L569.6 171.27L569.86 171.13L570.12 170.96L570.38 170.78L570.64 170.58L570.9 170.37L571.16 170.15L571.42 169.91L571.68 169.66L571.94 169.4L572.2 169.14L572.46 168.86L572.72 168.57L572.98 168.28L573.24 167.98L573.5 167.67L573.76 167.38L574.02 167.08L574.28 166.79L574.55 166.5L574.81 166.2L575.07 165.89L575.33 165.57L575.59 165.24L575.85 164.89L576.11 164.54L576.37 164.19L576.63 163.85L576.89 163.51L577.15 163.18L577.41 162.85L577.67 162.52L577.93 162.18L578.19 161.83L578.45 161.48L578.71 161.11L578.97 160.74L579.23 160.36L579.49 159.97L579.75 159.58L580.01 159.19L580.27 158.79L580.53 158.38L580.79 157.96L581.05 157.54L581.32 157.11L581.58 156.68L581.84 156.23L582.1 155.78L582.36 155.33L582.62 154.89L582.88 154.42L583.14 153.91L583.4 153.3L583.66 152.63L583.92 151.89L584.18 151.09L584.44 150.31L584.7 149.64L584.96 148.82L585.22 147.27L585.48 145.53L585.74 139.9L585.74 88.3L585.74 88.3L585.99 139.9L586.24 159.9L586.49 166.9L586.84 169.7L587.34 171.23L587.6 171.4L587.86 171.52L588.12 171.59L588.38 171.6L588.64 171.52L588.9 171.4L589.16 171.27L589.43 171.13L589.69 170.96L589.95 170.78L590.21 170.58L590.47 170.37L590.73 170.15L590.99 169.91L591.25 169.66L591.51 169.4L591.77 169.14L592.03 168.86L592.29 168.57L592.55 168.28L592.81 167.98L593.07 167.67L593.33 167.38L593.59 167.08L593.85 166.79L594.11 166.5L594.37 166.2L594.63 165.89L594.89 165.57L595.15 165.24L595.41 164.89L595.67 164.54L595.93 164.19L596.2 163.85L596.46 163.51L596.72 163.18L596.98 162.85L597.24 162.52L597.5 162.18L597.76 161.83L598.02 161.48L598.28 161.11L598.54 160.74L598.8 160.36L599.06 159.97L599.32 159.58L599.58 159.19L599.84 158.79L600.1 158.38L600.36 157.96L600.62 157.54L600.88 157.11L601.14 156.68L601.4 156.23L601.66 155.78L601.92 155.33L602.18 154.89L602.44 154.42L602.71 153.91L602.97 153.3L603.23 152.63L603.49 151.89L603.75 151.09L604.01 150.31L604.27 149.64L604.53 148.82L604.79 147.27L605.05 145.53L605.31 139.9L605.31 88.3L605.31 88.3L605.56 139.9L605.81 159.9L606.06 166.9L606.41 169.7L606.91 171.23L607.17 171.4L607.43 171.52L607.69 171.59L607.95 171.6L608.21 171.52L608.47 171.4L608.73 171.27L608.99 171.13L609.25 170.96L609.51 170.78L609.77 170.58L610.03 170.37L610.29 170.15L610.55 169.91L610.81 169.66L611.08 169.4L611.34 169.14L611.6 168.86L611.86 168.57L612.12 168.28L612.38 167.98L612.64 167.67L612.9 167.38L613.1 167.15" class="r"/>
<path d="M70.3 144.22L70.5 139.9L70.5 88.3L70.5 88.3L70.75 139.9L70.95 164.9L71.4 170.7L72.1 171.3L75.4 171.1L76.9 169.9L77.3 168.36L77.56 168.06L77.82 167.75L78.09 167.45L78.35 167.16L78.61 166.86L78.87 166.57L79.13 166.27L79.39 165.96L79.66 165.64L79.92 165.31L80.18 164.97L80.44 164.62L80.7 164.26L80.97 163.92L81.23 163.57L81.49 163.24L81.75 162.91L82.01 162.58L82.27 162.24L82.54 161.89L82.8 161.53L83.06 161.16L83.32 160.79L83.58 160.41L83.85 160.02L84.11 159.63L84.37 159.24L84.63 158.83L84.89 158.42L85.16 158.01L85.42 157.58L85.68 157.15L85.94 156.72L86.2 156.27L86.46 155.81L86.73 155.36L86.99 154.92L87.25 154.45L87.51 153.94L87.77 153.34L88.04 152.66L88.3 151.92L88.56 151.12L88.82 150.33L89.08 149.66L89.34 148.84L89.61 147.29L89.87 145.54L90.13 139.9L90.13 88.3L90.13 88.3L90.38 139.9L90.58 164.9L91.03 170.7L91.73 171.3L94.97 171.1L96.47 169.9L96.87 168.43L97.13 168.13L97.39 167.82L97.66 167.52L97.92 167.22L98.18 166.93L98.45 166.63L98.71 166.33L98.97 166.03L99.24 165.71L99.5 165.37L99.76 165.03L100.02 164.68L100.29 164.33L100.55 163.97L100.81 163.63L101.08 163.29L101.34 162.96L101.6 162.63L101.87 162.29L102.13 161.94L102.39 161.58L102.66 161.21L102.92 160.84L103.18 160.46L103.45 160.07L103.71 159.68L103.97 159.28L104.23 158.88L104.5 158.46L104.76 158.05L105.02 157.62L105.29 157.19L105.55 156.75L105.81 156.3L106.08 155.85L106.34 155.39L106.6 154.95L106.87 154.48L107.13 153.97L107.39 153.37L107.66 152.68L107.92 151.95L108.18 151.14L108.44 150.35L108.71 149.67L108.97 148.86L109.23 147.31L109.5 145.55L109.76 139.9L109.76 88.3L109.76 88.3L110.01 139.9L110.21 164.9L110.66 170.7L111.36 171.3L114.53 171.1L116.03 169.9L116.43 168.5L116.7 168.2L116.96 167.89L117.23 167.59L117.49 167.29L117.76 166.99L118.02 166.69L118.28 166.39L118.55 166.09L118.81 165.77L119.08 165.44L119.34 165.1L119.61 164.74L119.87 164.39L120.14 164.03L120.4 163.69L120.66 163.35L120.93 163.01L121.19 162.68L121.46 162.34L121.72 161.99L121.99 161.63L122.25 161.26L122.52 160.89L122.78 160.5L123.04 160.12L123.31 159.72L123.57 159.32L123.84 158.92L124.1 158.5L124.37 158.09L124.63 157.66L124.9 157.23L125.16 156.79L125.42 156.33L125.69 155.88L125.95 155.42L126.22 154.97L126.48 154.51L126.75 153.99L127.01 153.39L127.27 152.71L127.54 151.98L127.8 151.17L128.07 150.36L128.33 149.68L128.6 148.87L128.86 147.33L129.13 145.56L129.39 139.9L129.39 88.3L129.39 88.3L129.64 139.9L129.84 164.9L130.29 170.7L130.99 171.3L134.1 171.1L135.6 169.9L136 168.57L136.27 168.27L136.53 167.96L136.8 167.65L137.06 167.35L137.33 167.05L137.6 166.76L137.86 166.46L138.13 166.15L138.39 165.83L138.66 165.5L138.92 165.16L139.19 164.81L139.46 164.45L139.72 164.09L139.99 163.74L140.25 163.4L140.52 163.07L140.78 162.73L141.05 162.39L141.31 162.04L141.58 161.68L141.85 161.31L142.11 160.93L142.38 160.55L142.64 160.16L142.91 159.77L143.17 159.37L143.44 158.96L143.71 158.55L143.97 158.12L144.24 157.7L144.5 157.26L144.77 156.82L145.03 156.37L145.3 155.91L145.57 155.45L145.83 155L146.1 154.53L146.36 154.02L146.63 153.42L146.89 152.74L147.16 152L147.43 151.19L147.69 150.38L147.96 149.7L148.22 148.89L148.49 147.34L148.75 145.57L149.02 139.9L149.02 88.3L149.02 88.3L149.27 139.9L149.47 164.9L149.92 170.7L150.62 171.3L153.67 171.1L155.17 169.9L155.57 168.64L155.83 168.34L156.1 168.03L156.37 167.72L156.64 167.42L156.9 167.12L157.17 166.82L157.44 166.52L157.7 166.21L157.97 165.9L158.24 165.57L158.5 165.22L158.77 164.87L159.04 164.51L159.31 164.15L159.57 163.8L159.84 163.46L160.11 163.12L160.37 162.78L160.64 162.44L160.91 162.09L161.17 161.73L161.44 161.36L161.71 160.98L161.98 160.6L162.24 160.21L162.51 159.81L162.78 159.41L163.04 159L163.31 158.59L163.58 158.16L163.84 157.73L164.11 157.3L164.38 156.85L164.65 156.4L164.91 155.94L165.18 155.48L165.45 155.02L165.71 154.56L165.98 154.05L166.25 153.45L166.51 152.77L166.78 152.03L167.05 151.22L167.32 150.4L167.58 149.71L167.85 148.9L168.12 147.36L168.38 145.57L168.65 139.9L168.65 88.3L168.65 88.3L168.9 139.9L169.1 164.9L169.55 170.7L170.25 171.3L173.24 171.1L174.74 169.9L175.14 168.71L175.4 168.41L175.67 168.1L175.94 167.79L176.21 167.48L176.48 167.18L176.74 166.88L177.01 166.58L177.28 166.27L177.55 165.96L177.82 165.63L178.09 165.29L178.35 164.93L178.62 164.57L178.89 164.21L179.16 163.86L179.43 163.51L179.7 163.17L179.96 162.83L180.23 162.49L180.5 162.14L180.77 161.78L181.04 161.41L181.31 161.03L181.57 160.64L181.84 160.25L182.11 159.85L182.38 159.45L182.65 159.04L182.91 158.63L183.18 158.2L183.45 157.77L183.72 157.34L183.99 156.89L184.26 156.43L184.52 155.97L184.79 155.51L185.06 155.05L185.33 154.58L185.6 154.07L185.87 153.48L186.13 152.79L186.4 152.05L186.67 151.24L186.94 150.42L187.21 149.72L187.48 148.92L187.74 147.38L188.01 145.58L188.28 139.9L188.28 88.3L188.28 88.3L188.53 139.9L188.73 164.9L189.18 170.7L189.88 171.3L192.8 171.1L194.3 169.9L194.7 168.78L194.97 168.48L195.24 168.17L195.51 167.86L195.78 167.55L196.05 167.24L196.32 166.94L196.59 166.64L196.86 166.33L197.13 166.02L197.4 165.69L197.67 165.35L197.94 165L198.21 164.64L198.48 164.27L198.75 163.92L199.01 163.56L199.28 163.22L199.55 162.88L199.82 162.54L200.09 162.19L200.36 161.83L200.63 161.46L200.9 161.08L201.17 160.69L201.44 160.3L201.71 159.9L201.98 159.49L202.25 159.08L202.52 158.67L202.79 158.24L203.06 157.81L203.33 157.37L203.6 156.92L203.87 156.47L204.14 156L204.41 155.53L204.68 155.08L204.94 154.61L205.21 154.1L205.48 153.51L205.75 152.82L206.02 152.08L206.29 151.26L206.56 150.44L206.83 149.73L207.1 148.93L207.37 147.4L207.64 145.59L207.91 139.9L207.91 88.3L207.91 88.3L208.16 139.9L208.36 164.9L208.81 170.7L209.51 171.3L212.37 171.1L213.87 169.9L214.27 168.85L214.54 168.55L214.81 168.24L215.08 167.93L215.35 167.61L215.62 167.31L215.89 167L216.16 166.7L216.44 166.39L216.71 166.08L216.98 165.75L217.25 165.41L217.52 165.06L217.79 164.7L218.06 164.34L218.33 163.97L218.6 163.62L218.87 163.27L219.14 162.93L219.41 162.59L219.69 162.24L219.96 161.88L220.23 161.51L220.5 161.13L220.77 160.74L221.04 160.34L221.31 159.94L221.58 159.54L221.85 159.13L222.12 158.71L222.39 158.28L222.66 157.85L222.94 157.41L223.21 156.96L223.48 156.5L223.75 156.03L224.02 155.56L224.29 155.1L224.56 154.63L224.83 154.12L225.1 153.53L225.37 152.85L225.64 152.11L225.91 151.29L226.19 150.46L226.46 149.75L226.73 148.95L227 147.42L227.27 145.6L227.54 139.9L227.54 88.3L227.54 88.3L227.79 139.9L227.99 164.9L228.44 170.7L229.14 171.3L231.94 171.1L233.44 169.9L233.84 168.92L234.11 168.62L234.38 168.31L234.65 168L234.92 167.68L235.2 167.37L235.47 167.06L235.74 166.76L236.01 166.45L236.29 166.14L236.56 165.82L236.83 165.48L237.1 165.12L237.37 164.76L237.65 164.4L237.92 164.03L238.19 163.67L238.46 163.33L238.73 162.98L239.01 162.64L239.28 162.29L239.55 161.93L239.82 161.55L240.09 161.17L240.37 160.78L240.64 160.39L240.91 159.99L241.18 159.58L241.46 159.17L241.73 158.75L242 158.32L242.27 157.88L242.54 157.44L242.82 156.99L243.09 156.53L243.36 156.07L243.63 155.59L243.9 155.13L244.18 154.66L244.45 154.15L244.72 153.56L244.99 152.88L245.27 152.13L245.54 151.31L245.81 150.48L246.08 149.76L246.35 148.96L246.63 147.43L246.9 145.61L247.17 139.9L247.17 88.3L247.17 88.3L247.42 139.9L247.62 164.9L248.07 170.7L248.77 171.3L251.5 171.1L253 169.9L253.4 168.99L253.68 168.69L253.95 168.38L254.22 168.07L254.5 167.75L254.77 167.43L255.04 167.13L255.32 166.82L255.59 166.51L255.86 166.2L256.14 165.88L256.41 165.54L256.68 165.19L256.96 164.82L257.23 164.46L257.5 164.09L257.78 163.73L258.05 163.38L258.32 163.03L258.6 162.69L258.87 162.34L259.14 161.97L259.42 161.6L259.69 161.22L259.96 160.83L260.24 160.43L260.51 160.03L260.79 159.62L261.06 159.21L261.33 158.79L261.61 158.36L261.88 157.92L262.15 157.48L262.43 157.03L262.7 156.57L262.97 156.1L263.25 155.62L263.52 155.16L263.79 154.68L264.07 154.17L264.34 153.59L264.61 152.9L264.89 152.16L265.16 151.34L265.43 150.5L265.71 149.77L265.98 148.98L266.25 147.45L266.53 145.61L266.8 139.9L266.8 88.3L266.8 88.3L267.05 139.9L267.25 164.9L267.7 170.7L268.4 171.3L271.07 171.1L272.57 169.9L272.97 169.06L273.24 168.76L273.52 168.45L273.79 168.13L274.07 167.82L274.34 167.5L274.62 167.19L274.89 166.88L275.17 166.57L275.44 166.26L275.72 165.94L275.99 165.6L276.27 165.25L276.54 164.88L276.82 164.52L277.09 164.15L277.37 163.78L277.64 163.43L277.91 163.08L278.19 162.74L278.46 162.38L278.74 162.02L279.01 161.65L279.29 161.27L279.56 160.88L279.84 160.48L280.11 160.07L280.39 159.66L280.66 159.25L280.94 158.83L281.21 158.4L281.49 157.96L281.76 157.51L282.03 157.06L282.31 156.6L282.58 156.13L282.86 155.65L283.13 155.18L283.41 154.71L283.68 154.2L283.96 153.62L284.23 152.93L284.51 152.18L284.78 151.36L285.06 150.52L285.33 149.78L285.61 148.99L285.88 147.47L286.16 145.62L286.43 139.9L286.43 88.3L286.43 88.3L286.68 139.9L286.88 164.9L287.33 170.7L288.03 171.3L290.64 171.1L292.14 169.9L292.54 169.12L292.81 168.83L293.09 168.52L293.36 168.2L293.64 167.88L293.92 167.56L294.19 167.25L294.47 166.94L294.74 166.63L295.02 166.32L295.3 166L295.57 165.66L295.85 165.31L296.12 164.95L296.4 164.58L296.68 164.21L296.95 163.84L297.23 163.48L297.5 163.13L297.78 162.78L298.06 162.43L298.33 162.07L298.61 161.7L298.88 161.31L299.16 160.92L299.44 160.52L299.71 160.12L299.99 159.71L300.26 159.29L300.54 158.87L300.82 158.43L301.09 158L301.37 157.55L301.64 157.1L301.92 156.63L302.2 156.16L302.47 155.68L302.75 155.21L303.02 154.73L303.3 154.23L303.58 153.64L303.85 152.96L304.13 152.21L304.4 151.38L304.68 150.54L304.96 149.8L305.23 149.01L305.51 147.49L305.78 145.63L306.06 139.9L306.06 88.3L306.06 88.3L306.31 139.9L306.51 164.9L306.96 170.7L307.66 171.3L310.2 171.1L311.7 169.9L312.1 169.19L312.38 168.89L312.66 168.59L312.94 168.27L313.21 167.95L313.49 167.63L313.77 167.31L314.04 167L314.32 166.69L314.6 166.38L314.88 166.06L315.15 165.72L315.43 165.37L315.71 165.01L315.99 164.64L316.26 164.27L316.54 163.9L316.82 163.54L317.09 163.18L317.37 162.83L317.65 162.48L317.93 162.12L318.2 161.74L318.48 161.36L318.76 160.97L319.04 160.57L319.31 160.16L319.59 159.75L319.87 159.33L320.14 158.91L320.42 158.47L320.7 158.03L320.98 157.59L321.25 157.13L321.53 156.66L321.81 156.19L322.09 155.71L322.36 155.23L322.64 154.76L322.92 154.25L323.19 153.67L323.47 152.98L323.75 152.24L324.03 151.41L324.3 150.55L324.58 149.81L324.86 149.02L325.14 147.51L325.41 145.64L325.69 139.9L325.69 88.3L325.69 88.3L325.94 139.9L326.14 164.9L326.59 170.7L327.29 171.3L329.77 171.1L331.27 169.9L331.67 169.25L331.95 168.96L332.23 168.66L332.51 168.34L332.79 168.02L333.06 167.69L333.34 167.37L333.62 167.06L333.9 166.75L334.18 166.44L334.46 166.11L334.74 165.78L335.01 165.43L335.29 165.07L335.57 164.7L335.85 164.32L336.13 163.95L336.41 163.59L336.68 163.23L336.96 162.88L337.24 162.53L337.52 162.17L337.8 161.79L338.08 161.41L338.36 161.01L338.63 160.61L338.91 160.21L339.19 159.79L339.47 159.37L339.75 158.95L340.03 158.51L340.31 158.07L340.58 157.62L340.86 157.16L341.14 156.7L341.42 156.22L341.7 155.74L341.98 155.26L342.26 154.78L342.53 154.27L342.81 153.7L343.09 153.01L343.37 152.26L343.65 151.43L343.93 150.57L344.21 149.82L344.48 149.03L344.76 147.52L345.04 145.65L345.32 139.9L345.32 88.3L345.32 88.3L345.57 139.9L345.77 164.9L346.22 170.7L346.92 171.3L349.34 171.1L350.84 169.9L351.24 169.31L351.52 169.03L351.8 168.72L352.08 168.41L352.36 168.08L352.64 167.76L352.92 167.44L353.2 167.12L353.48 166.81L353.76 166.49L354.04 166.17L354.32 165.84L354.6 165.49L354.88 165.13L355.16 164.76L355.44 164.38L355.72 164.01L356 163.64L356.28 163.28L356.55 162.93L356.83 162.58L357.11 162.21L357.39 161.84L357.67 161.45L357.95 161.06L358.23 160.66L358.51 160.25L358.79 159.83L359.07 159.41L359.35 158.99L359.63 158.55L359.91 158.11L360.19 157.66L360.47 157.2L360.75 156.73L361.03 156.25L361.31 155.77L361.59 155.29L361.87 154.81L362.15 154.3L362.43 153.72L362.71 153.04L362.99 152.29L363.27 151.45L363.55 150.59L363.83 149.83L364.11 149.05L364.39 147.54L364.67 145.65L364.95 139.9L364.95 88.3L364.95 88.3L365.2 139.9L365.4 164.9L365.85 170.7L366.55 171.3L368.9 171.1L370.4 169.9L370.81 169.38L371.09 169.09L371.37 168.79L371.65 168.47L371.93 168.15L372.21 167.82L372.49 167.5L372.77 167.18L373.05 166.87L373.34 166.55L373.62 166.23L373.9 165.9L374.18 165.55L374.46 165.19L374.74 164.82L375.02 164.44L375.3 164.06L375.58 163.69L375.87 163.33L376.15 162.98L376.43 162.62L376.71 162.26L376.99 161.89L377.27 161.5L377.55 161.11L377.83 160.7L378.11 160.29L378.4 159.88L378.68 159.45L378.96 159.03L379.24 158.59L379.52 158.14L379.8 157.69L380.08 157.23L380.36 156.76L380.64 156.28L380.93 155.8L381.21 155.31L381.49 154.83L381.77 154.32L382.05 153.75L382.33 153.06L382.61 152.31L382.89 151.48L383.17 150.61L383.46 149.85L383.74 149.06L384.02 147.56L384.3 145.66L384.58 139.9L384.58 88.3L384.58 88.3L384.83 139.9L385.03 164.9L385.48 170.7L386.18 171.3L388.47 171.1L389.97 169.9L390.37 169.44L390.65 169.15L390.94 168.86L391.22 168.54L391.5 168.22L391.78 167.89L392.07 167.56L392.35 167.24L392.63 166.93L392.91 166.61L393.2 166.29L393.48 165.96L393.76 165.61L394.04 165.25L394.33 164.88L394.61 164.5L394.89 164.12L395.17 163.75L395.46 163.38L395.74 163.03L396.02 162.67L396.3 162.31L396.58 161.93L396.87 161.55L397.15 161.15L397.43 160.75L397.71 160.34L398 159.92L398.28 159.5L398.56 159.06L398.84 158.63L399.13 158.18L399.41 157.73L399.69 157.27L399.97 156.79L400.26 156.31L400.54 155.82L400.82 155.34L401.1 154.86L401.39 154.35L401.67 153.77L401.95 153.09L402.23 152.34L402.52 151.5L402.8 150.63L403.08 149.86L403.36 149.08L403.65 147.58L403.93 145.67L404.21 139.9L404.21 88.3L404.21 88.3L404.46 139.9L404.66 164.9L405.11 170.7L405.81 171.3L408.04 171.1L409.54 169.9L409.94 169.5L410.22 169.22L410.51 168.92L410.79 168.61L411.07 168.28L411.36 167.96L411.64 167.63L411.92 167.3L412.21 166.99L412.49 166.67L412.78 166.35L413.06 166.02L413.34 165.67L413.63 165.31L413.91 164.94L414.19 164.56L414.48 164.18L414.76 163.8L415.05 163.44L415.33 163.08L415.61 162.72L415.9 162.35L416.18 161.98L416.46 161.59L416.75 161.2L417.03 160.79L417.32 160.38L417.6 159.96L417.88 159.54L418.17 159.1L418.45 158.66L418.73 158.22L419.02 157.76L419.3 157.3L419.58 156.83L419.87 156.34L420.15 155.85L420.44 155.36L420.72 154.88L421 154.37L421.29 153.8L421.57 153.12L421.85 152.36L422.14 151.53L422.42 150.65L422.71 149.87L422.99 149.09L423.27 147.59L423.56 145.68L423.84 139.9L423.84 88.3L423.84 88.3L424.09 139.9L424.29 164.9L424.74 170.7L425.44 171.3L427.61 171.1L429.11 169.9L429.51 169.57L429.79 169.28L430.08 168.99L430.36 168.67L430.65 168.35L430.93 168.02L431.22 167.69L431.5 167.37L431.79 167.04L432.07 166.73L432.36 166.4L432.64 166.07L432.93 165.73L433.21 165.37L433.5 165L433.78 164.62L434.07 164.23L434.35 163.86L434.64 163.49L434.92 163.12L435.21 162.76L435.49 162.4L435.78 162.03L436.06 161.64L436.35 161.24L436.63 160.84L436.92 160.42L437.2 160L437.49 159.58L437.77 159.14L438.06 158.7L438.34 158.25L438.63 157.8L438.91 157.33L439.2 156.86L439.48 156.38L439.77 155.88L440.05 155.39L440.34 154.91L440.62 154.4L440.91 153.82L441.19 153.14L441.48 152.39L441.76 151.55L442.05 150.67L442.33 149.88L442.62 149.1L442.9 147.61L443.19 145.69L443.47 139.9L443.47 88.3L443.47 88.3L443.72 139.9L443.92 164.9L444.37 170.7L445.07 171.3L447.17 171.1L448.67 169.9L449.07 169.63L449.36 169.34L449.65 169.05L449.93 168.74L450.22 168.42L450.5 168.09L450.79 167.76L451.08 167.43L451.36 167.1L451.65 166.78L451.94 166.46L452.22 166.13L452.51 165.79L452.79 165.43L453.08 165.06L453.37 164.68L453.65 164.29L453.94 163.91L454.23 163.54L454.51 163.17L454.8 162.81L455.08 162.45L455.37 162.07L455.66 161.69L455.94 161.29L456.23 160.88L456.52 160.47L456.8 160.04L457.09 159.62L457.37 159.18L457.66 158.74L457.95 158.29L458.23 157.83L458.52 157.37L458.81 156.89L459.09 156.41L459.38 155.91L459.66 155.42L459.95 154.93L460.24 154.42L460.52 153.85L460.81 153.17L461.1 152.41L461.38 151.57L461.67 150.69L461.95 149.9L462.24 149.12L462.53 147.63L462.81 145.69L463.1 139.9L463.1 88.3L463.1 88.3L463.35 139.9L463.55 164.9L464 170.7L464.7 171.3L466.74 171.1L468.24 169.9L468.64 169.69L468.93 169.4L469.22 169.11L469.5 168.81L469.79 168.48L470.08 168.15L470.37 167.82L470.65 167.49L470.94 167.16L471.23 166.84L471.52 166.52L471.8 166.19L472.09 165.85L472.38 165.49L472.67 165.12L472.95 164.73L473.24 164.35L473.53 163.96L473.82 163.59L474.1 163.22L474.39 162.86L474.68 162.49L474.97 162.12L475.25 161.73L475.54 161.33L475.83 160.92L476.12 160.51L476.4 160.09L476.69 159.66L476.98 159.22L477.27 158.78L477.55 158.33L477.84 157.87L478.13 157.4L478.42 156.92L478.7 156.44L478.99 155.94L479.28 155.44L479.57 154.96L479.85 154.45L480.14 153.87L480.43 153.2L480.72 152.43L481 151.6L481.29 150.71L481.58 149.91L481.87 149.13L482.15 147.65L482.44 145.7L482.73 139.9L482.73 88.3L482.73 88.3L482.98 139.9L483.18 164.9L483.63 170.7L484.33 171.3L486.31 171.1L487.81 169.9L488.21 169.75L488.5 169.47L488.78 169.17L489.07 168.87L489.36 168.55L489.65 168.22L489.94 167.88L490.23 167.55L490.52 167.22L490.81 166.9L491.1 166.58L491.38 166.25L491.67 165.91L491.96 165.55L492.25 165.18L492.54 164.79L492.83 164.41L493.12 164.02L493.41 163.64L493.69 163.27L493.98 162.91L494.27 162.54L494.56 162.17L494.85 161.78L495.14 161.38L495.43 160.97L495.72 160.55L496.01 160.13L496.29 159.7L496.58 159.26L496.87 158.82L497.16 158.36L497.45 157.9L497.74 157.43L498.03 156.96L498.32 156.47L498.61 155.97L498.89 155.47L499.18 154.98L499.47 154.47L499.76 153.9L500.05 153.22L500.34 152.46L500.63 151.62L500.92 150.73L501.2 149.92L501.49 149.14L501.78 147.66L502.07 145.71L502.36 139.9L502.36 88.3L502.36 88.3L502.61 139.9L502.81 164.9L503.26 170.7L503.96 171.3L505.87 171.1L507.37 169.9L507.77 169.81L508.06 169.53L508.35 169.24L508.64 168.93L508.93 168.61L509.22 168.28L509.51 167.95L509.8 167.61L510.09 167.28L510.39 166.96L510.68 166.63L510.97 166.3L511.26 165.96L511.55 165.61L511.84 165.24L512.13 164.85L512.42 164.46L512.71 164.07L513 163.69L513.29 163.32L513.58 162.95L513.87 162.59L514.16 162.21L514.45 161.82L514.74 161.42L515.03 161.01L515.32 160.6L515.61 160.17L515.9 159.74L516.19 159.3L516.48 158.86L516.77 158.4L517.06 157.94L517.35 157.47L517.64 156.99L517.93 156.5L518.22 156L518.51 155.5L518.8 155L519.09 154.49L519.38 153.92L519.67 153.25L519.96 152.48L520.25 151.64L520.54 150.75L520.83 149.93L521.12 149.15L521.41 147.68L521.7 145.72L521.99 139.9L521.99 88.3L521.99 88.3L522.24 139.9L522.44 164.9L522.89 170.7L523.59 171.3L525.44 171.1L526.94 169.9L527.34 169.87L527.63 169.59L527.92 169.3L528.22 169L528.51 168.68L528.8 168.35L529.09 168.01L529.38 167.67L529.67 167.34L529.96 167.01L530.26 166.69L530.55 166.36L530.84 166.02L531.13 165.67L531.42 165.29L531.71 164.91L532 164.52L532.29 164.13L532.59 163.74L532.88 163.37L533.17 163L533.46 162.63L533.75 162.26L534.04 161.87L534.33 161.47L534.63 161.06L534.92 160.64L535.21 160.21L535.5 159.78L535.79 159.34L536.08 158.89L536.37 158.44L536.67 157.97L536.96 157.5L537.25 157.02L537.54 156.53L537.83 156.03L538.12 155.52L538.41 155.03L538.71 154.52L539 153.95L539.29 153.27L539.58 152.51L539.87 151.67L540.16 150.77L540.45 149.95L540.75 149.17L541.04 147.7L541.33 145.72L541.62 139.9L541.62 88.3L541.62 88.3L541.87 139.9L542.07 164.9L542.52 170.7L543.22 171.3L545.01 171.1L546.51 169.9L546.91 169.93L547.2 169.65L547.49 169.36L547.79 169.06L548.08 168.74L548.37 168.41L548.66 168.08L548.96 167.74L549.25 167.4L549.54 167.07L549.83 166.74L550.13 166.41L550.42 166.08L550.71 165.72L551.01 165.35L551.3 164.97L551.59 164.58L551.88 164.18L552.18 163.8L552.47 163.42L552.76 163.05L553.05 162.68L553.35 162.3L553.64 161.91L553.93 161.51L554.23 161.1L554.52 160.68L554.81 160.25L555.1 159.82L555.4 159.38L555.69 158.93L555.98 158.47L556.27 158.01L556.57 157.54L556.86 157.05L557.15 156.56L557.44 156.06L557.74 155.55L558.03 155.05L558.32 154.54L558.62 153.97L558.91 153.3L559.2 152.53L559.49 151.69L559.79 150.79L560.08 149.96L560.37 149.18L560.66 147.72L560.96 145.73L561.25 139.9L561.25 88.3L561.25 88.3L561.5 139.9L561.7 164.9L562.15 170.7L562.85 171.3L564.57 171.1L566.07 169.9L566.47 169.99L566.77 169.71L567.06 169.42L567.36 169.12L567.65 168.81L567.94 168.48L568.24 168.14L568.53 167.8L568.83 167.46L569.12 167.13L569.41 166.8L569.71 166.47L570 166.13L570.3 165.78L570.59 165.41L570.88 165.03L571.18 164.63L571.47 164.24L571.77 163.85L572.06 163.47L572.35 163.09L572.65 162.72L572.94 162.35L573.24 161.96L573.53 161.56L573.82 161.14L574.12 160.72L574.41 160.3L574.71 159.86L575 159.42L575.29 158.97L575.59 158.51L575.88 158.04L576.18 157.57L576.47 157.09L576.76 156.59L577.06 156.09L577.35 155.57L577.65 155.08L577.94 154.56L578.23 154L578.53 153.33L578.82 152.56L579.12 151.71L579.41 150.81L579.7 149.97L580 149.19L580.29 147.73L580.59 145.74L580.88 139.9L580.88 88.3L580.88 88.3L581.13 139.9L581.33 164.9L581.78 170.7L582.48 171.3L584.14 171.1L585.64 169.9L586.04 170.05L586.34 169.77L586.63 169.48L586.93 169.18L587.22 168.87L587.52 168.54L587.81 168.2L588.11 167.86L588.4 167.52L588.7 167.19L588.99 166.86L589.29 166.52L589.59 166.19L589.88 165.84L590.18 165.47L590.47 165.08L590.77 164.69L591.06 164.29L591.36 163.9L591.65 163.52L591.95 163.14L592.24 162.77L592.54 162.39L592.83 162L593.13 161.6L593.42 161.19L593.72 160.77L594.01 160.34L594.31 159.9L594.6 159.46L594.9 159.01L595.2 158.55L595.49 158.08L595.79 157.6L596.08 157.12L596.38 156.62L596.67 156.11L596.97 155.6L597.26 155.1L597.56 154.59L597.85 154.02L598.15 153.35L598.44 152.58L598.74 151.74L599.03 150.83L599.33 149.98L599.62 149.21L599.92 147.75L600.21 145.75L600.51 139.9L600.51 88.3L600.51 88.3L600.76 139.9L600.96 164.9L601.41 170.7L602.11 171.3L603.71 171.1L605.21 169.9L605.61 170.11L605.91 169.83L606.2 169.54L606.5 169.24L606.8 168.93L607.09 168.61L607.39 168.27L607.68 167.92L607.98 167.58L608.28 167.24L608.57 166.91L608.87 166.58L609.17 166.24L609.46 165.89L609.76 165.53L610.06 165.14L610.35 164.75L610.65 164.35L610.95 163.95L611.24 163.57L611.54 163.19L611.84 162.81L612.13 162.44L612.43 162.05L612.73 161.65L613.02 161.23L613.1 161.12" class="b"/>
<path d="M179.1 184.9v-6M179.1 76.4v6M287.6 184.9v-6M287.6 76.4v6M396.1 184.9v-6M396.1 76.4v6M504.6 184.9v-6M504.6 76.4v6M70.6 178.87h3 M613.1 178.87h-3M70.6 172.84h3 M613.1 172.84h-3M70.6 166.82h3 M613.1 166.82h-3M70.6 160.79h6 M613.1 160.79h-6M70.6 154.76h3 M613.1 154.76h-3M70.6 148.73h3 M613.1 148.73h-3M70.6 142.71h3 M613.1 142.71h-3M70.6 136.68h6 M613.1 136.68h-6M70.6 130.65h3 M613.1 130.65h-3M70.6 124.62h3 M613.1 124.62h-3M70.6 118.59h3 M613.1 118.59h-3M70.6 112.57h6 M613.1 112.57h-6M70.6 106.54h3 M613.1 106.54h-3M70.6 100.51h3 M613.1 100.51h-3M70.6 94.48h3 M613.1 94.48h-3M70.6 88.46h6 M613.1 88.46h-6M70.6 82.43h3 M613.1 82.43h-3" class="k"/>
<rect x="70.6" y="76.4" width="542.5" height="108.5" class="k"/>
<text transform="translate(60.6 95.96) rotate(0.1)" text-anchor="end">10<tspan dy="-8.0" font-size="13.1">8</tspan></text>
<text transform="translate(60.6 120.07) rotate(0.1)" text-anchor="end">10<tspan dy="-8.0" font-size="13.1">4</tspan></text>
<text transform="translate(60.6 144.18) rotate(0.1)" text-anchor="end">10<tspan dy="-8.0" font-size="13.1">0</tspan></text>
<text transform="translate(60.6 168.29) rotate(0.1)" text-anchor="end">10<tspan dy="-8.0" font-size="13.1">-4</tspan></text>
<text transform="translate(60.6 192.4) rotate(0.1)" text-anchor="end">10<tspan dy="-8.0" font-size="13.1">-8</tspan></text>
<text transform="translate(72.8 206.7) rotate(0.1)" text-anchor="middle">0</text>
<text transform="translate(181.3 206.7) rotate(0.1)" text-anchor="middle">1000</text>
<text transform="translate(289.8 206.7) rotate(0.1)" text-anchor="middle">2000</text>
<text transform="translate(398.3 206.7) rotate(0.1)" text-anchor="middle">3000</text>
<text transform="translate(506.8 206.7) rotate(0.1)" text-anchor="middle">4000</text>
<text transform="translate(615.3 206.7) rotate(0.1)" text-anchor="middle">5000</text>
<text transform="translate(342 231.2) rotate(0.1)" text-anchor="middle">time [year]</text>
<text transform="translate(17 130.65) rotate(-90)" text-anchor="middle">V/V<tspan dy="4.6" font-size="13.1">p</tspan></text>
<path d="M70.6 285H613.1" class="g"/>
<path d="M70.6 309.1H613.1" class="g"/>
<path d="M70.6 333.2H613.1" class="g"/>
<path d="M70.6 357.3H613.1" class="g"/>
<path d="M179.1 381.4V272.95" class="g"/>
<path d="M287.6 381.4V272.95" class="g"/>
<path d="M396.1 381.4V272.95" class="g"/>
<path d="M504.6 381.4V272.95" class="g"/>
<path d="M70.3 345.38L70.32 345.33L70.58 343.78L70.84 342.03L71.1 336.4L71.1 284.8L71.1 284.8L71.35 336.4L71.6 356.4L71.85 363.4L72.2 366.2L72.7 367.7L72.96 367.89L73.22 368.01L73.48 368.08L73.74 368.1L74 368.04L74.27 367.92L74.53 367.79L74.79 367.65L75.05 367.48L75.31 367.3L75.57 367.1L75.83 366.9L76.09 366.68L76.35 366.44L76.61 366.19L76.87 365.93L77.13 365.66L77.4 365.39L77.66 365.1L77.92 364.8L78.18 364.5L78.44 364.2L78.7 363.9L78.96 363.61L79.22 363.31L79.48 363.02L79.74 362.72L80 362.42L80.27 362.1L80.53 361.76L80.79 361.42L81.05 361.07L81.31 360.72L81.57 360.37L81.83 360.03L82.09 359.7L82.35 359.37L82.61 359.04L82.87 358.7L83.13 358.35L83.4 357.99L83.66 357.63L83.92 357.25L84.18 356.87L84.44 356.49L84.7 356.1L84.96 355.7L85.22 355.3L85.48 354.89L85.74 354.48L86 354.06L86.27 353.63L86.53 353.19L86.79 352.74L87.05 352.29L87.31 351.84L87.57 351.4L87.83 350.93L88.09 350.42L88.35 349.82L88.61 349.14L88.87 348.4L89.13 347.6L89.4 346.81L89.66 346.15L89.92 345.33L90.18 343.78L90.44 342.03L90.7 336.4L90.7 284.8L90.7 284.8L90.95 336.4L91.2 356.4L91.45 363.4L91.8 366.2L92.3 367.7L92.56 367.89L92.82 368.01L93.08 368.08L93.34 368.1L93.6 368.04L93.87 367.92L94.13 367.79L94.39 367.65L94.65 367.48L94.91 367.3L95.17 367.1L95.43 366.9L95.69 366.68L95.95 366.44L96.21 366.19L96.47 365.93L96.73 365.66L97 365.39L97.26 365.1L97.52 364.8L97.78 364.5L98.04 364.2L98.3 363.9L98.56 363.61L98.82 363.31L99.08 363.02L99.34 362.72L99.6 362.42L99.87 362.1L100.13 361.76L100.39 361.42L100.65 361.07L100.91 360.72L101.17 360.37L101.43 360.03L101.69 359.7L101.95 359.37L102.21 359.04L102.47 358.7L102.73 358.35L103 357.99L103.26 357.63L103.52 357.25L103.78 356.87L104.04 356.49L104.3 356.1L104.56 355.7L104.82 355.3L105.08 354.89L105.34 354.48L105.6 354.06L105.87 353.63L106.13 353.19L106.39 352.74L106.65 352.29L106.91 351.84L107.17 351.4L107.43 350.93L107.69 350.42L107.95 349.82L108.21 349.14L108.47 348.4L108.73 347.6L109 346.81L109.26 346.15L109.52 345.33L109.78 343.78L110.04 342.03L110.3 336.4L110.3 284.8L110.3 284.8L110.55 336.4L110.8 356.4L111.05 363.4L111.4 366.2L111.9 367.7L112.16 367.89L112.42 368.01L112.68 368.08L112.94 368.1L113.2 368.04L113.47 367.92L113.73 367.79L113.99 367.65L114.25 367.48L114.51 367.3L114.77 367.1L115.03 366.9L115.29 366.68L115.55 366.44L115.81 366.19L116.07 365.93L116.33 365.66L116.6 365.39L116.86 365.1L117.12 364.8L117.38 364.5L117.64 364.2L117.9 363.9L118.16 363.61L118.42 363.31L118.68 363.02L118.94 362.72L119.2 362.42L119.47 362.1L119.73 361.76L119.99 361.42L120.25 361.07L120.51 360.72L120.77 360.37L121.03 360.03L121.29 359.7L121.55 359.37L121.81 359.04L122.07 358.7L122.33 358.35L122.6 357.99L122.86 357.63L123.12 357.25L123.38 356.87L123.64 356.49L123.9 356.1L124.16 355.7L124.42 355.3L124.68 354.89L124.94 354.48L125.2 354.06L125.47 353.63L125.73 353.19L125.99 352.74L126.25 352.29L126.51 351.84L126.77 351.4L127.03 350.93L127.29 350.42L127.55 349.82L127.81 349.14L128.07 348.4L128.33 347.6L128.6 346.81L128.86 346.15L129.12 345.33L129.38 343.78L129.64 342.03L129.9 336.4L129.9 284.8L129.9 284.8L130.15 336.4L130.4 356.4L130.65 363.4L131 366.2L131.5 367.7L131.76 367.89L132.02 368.01L132.28 368.08L132.54 368.1L132.8 368.04L133.07 367.92L133.33 367.79L133.59 367.65L133.85 367.48L134.11 367.3L134.37 367.1L134.63 366.9L134.89 366.68L135.15 366.44L135.41 366.19L135.67 365.93L135.93 365.66L136.2 365.39L136.46 365.1L136.72 364.8L136.98 364.5L137.24 364.2L137.5 363.9L137.76 363.61L138.02 363.31L138.28 363.02L138.54 362.72L138.8 362.42L139.07 362.1L139.33 361.76L139.59 361.42L139.85 361.07L140.11 360.72L140.37 360.37L140.63 360.03L140.89 359.7L141.15 359.37L141.41 359.04L141.67 358.7L141.93 358.35L142.2 357.99L142.46 357.63L142.72 357.25L142.98 356.87L143.24 356.49L143.5 356.1L143.76 355.7L144.02 355.3L144.28 354.89L144.54 354.48L144.8 354.06L145.07 353.63L145.33 353.19L145.59 352.74L145.85 352.29L146.11 351.84L146.37 351.4L146.63 350.93L146.89 350.42L147.15 349.82L147.41 349.14L147.67 348.4L147.93 347.6L148.2 346.81L148.46 346.15L148.72 345.33L148.98 343.78L149.24 342.03L149.5 336.4L149.5 284.8L149.5 284.8L149.75 336.4L150 356.4L150.25 363.4L150.6 366.2L151.1 367.7L151.36 367.89L151.62 368.01L151.88 368.08L152.14 368.1L152.4 368.04L152.67 367.92L152.93 367.79L153.19 367.65L153.45 367.48L153.71 367.3L153.97 367.1L154.23 366.9L154.49 366.68L154.75 366.44L155.01 366.19L155.27 365.93L155.53 365.66L155.8 365.39L156.06 365.1L156.32 364.8L156.58 364.5L156.84 364.2L157.1 363.9L157.36 363.61L157.62 363.31L157.88 363.02L158.14 362.72L158.4 362.42L158.67 362.1L158.93 361.76L159.19 361.42L159.45 361.07L159.71 360.72L159.97 360.37L160.23 360.03L160.49 359.7L160.75 359.37L161.01 359.04L161.27 358.7L161.53 358.35L161.8 357.99L162.06 357.63L162.32 357.25L162.58 356.87L162.84 356.49L163.1 356.1L163.36 355.7L163.62 355.3L163.88 354.89L164.14 354.48L164.4 354.06L164.67 353.63L164.93 353.19L165.19 352.74L165.45 352.29L165.71 351.84L165.97 351.4L166.23 350.93L166.49 350.42L166.75 349.82L167.01 349.14L167.27 348.4L167.53 347.6L167.8 346.81L168.06 346.15L168.32 345.33L168.58 343.78L168.84 342.03L169.1 336.4L169.1 284.8L169.1 284.8L169.35 336.4L169.6 356.4L169.85 363.4L170.2 366.2L170.7 367.7L170.96 367.89L171.22 368.01L171.48 368.08L171.74 368.1L172 368.04L172.27 367.92L172.53 367.79L172.79 367.65L173.05 367.48L173.31 367.3L173.57 367.1L173.83 366.9L174.09 366.68L174.35 366.44L174.61 366.19L174.87 365.93L175.13 365.66L175.4 365.39L175.66 365.1L175.92 364.8L176.18 364.5L176.44 364.2L176.7 363.9L176.96 363.61L177.22 363.31L177.48 363.02L177.74 362.72L178 362.42L178.27 362.1L178.53 361.76L178.79 361.42L179.05 361.07L179.31 360.72L179.57 360.37L179.83 360.03L180.09 359.7L180.35 359.37L180.61 359.04L180.87 358.7L181.13 358.35L181.4 357.99L181.66 357.63L181.92 357.25L182.18 356.87L182.44 356.49L182.7 356.1L182.96 355.7L183.22 355.3L183.48 354.89L183.74 354.48L184 354.06L184.27 353.63L184.53 353.19L184.79 352.74L185.05 352.29L185.31 351.84L185.57 351.4L185.83 350.93L186.09 350.42L186.35 349.82L186.61 349.14L186.87 348.4L187.13 347.6L187.4 346.81L187.66 346.15L187.92 345.33L188.18 343.78L188.44 342.03L188.7 336.4L188.7 284.8L188.7 284.8L188.95 336.4L189.2 356.4L189.45 363.4L189.8 366.2L190.3 367.7L190.56 367.89L190.82 368.01L191.08 368.08L191.34 368.1L191.6 368.04L191.87 367.92L192.13 367.79L192.39 367.65L192.65 367.48L192.91 367.3L193.17 367.1L193.43 366.9L193.69 366.68L193.95 366.44L194.21 366.19L194.47 365.93L194.73 365.66L195 365.39L195.26 365.1L195.52 364.8L195.78 364.5L196.04 364.2L196.3 363.9L196.56 363.61L196.82 363.31L197.08 363.02L197.34 362.72L197.6 362.42L197.87 362.1L198.13 361.76L198.39 361.42L198.65 361.07L198.91 360.72L199.17 360.37L199.43 360.03L199.69 359.7L199.95 359.37L200.21 359.04L200.47 358.7L200.73 358.35L201 357.99L201.26 357.63L201.52 357.25L201.78 356.87L202.04 356.49L202.3 356.1L202.56 355.7L202.82 355.3L203.08 354.89L203.34 354.48L203.6 354.06L203.87 353.63L204.13 353.19L204.39 352.74L204.65 352.29L204.91 351.84L205.17 351.4L205.43 350.93L205.69 350.42L205.95 349.82L206.21 349.14L206.47 348.4L206.73 347.6L207 346.81L207.26 346.15L207.52 345.33L207.78 343.78L208.04 342.03L208.3 336.4L208.3 284.8L208.3 284.8L208.55 336.4L208.8 356.4L209.05 363.4L209.4 366.2L209.9 367.7L210.16 367.89L210.42 368.01L210.68 368.08L210.94 368.1L211.2 368.04L211.47 367.92L211.73 367.79L211.99 367.65L212.25 367.48L212.51 367.3L212.77 367.1L213.03 366.9L213.29 366.68L213.55 366.44L213.81 366.19L214.07 365.93L214.33 365.66L214.6 365.39L214.86 365.1L215.12 364.8L215.38 364.5L215.64 364.2L215.9 363.9L216.16 363.61L216.42 363.31L216.68 363.02L216.94 362.72L217.2 362.42L217.47 362.1L217.73 361.76L217.99 361.42L218.25 361.07L218.51 360.72L218.77 360.37L219.03 360.03L219.29 359.7L219.55 359.37L219.81 359.04L220.07 358.7L220.33 358.35L220.6 357.99L220.86 357.63L221.12 357.25L221.38 356.87L221.64 356.49L221.9 356.1L222.16 355.7L222.42 355.3L222.68 354.89L222.94 354.48L223.2 354.06L223.47 353.63L223.73 353.19L223.99 352.74L224.25 352.29L224.51 351.84L224.77 351.4L225.03 350.93L225.29 350.42L225.55 349.82L225.81 349.14L226.07 348.4L226.33 347.6L226.6 346.81L226.86 346.15L227.12 345.33L227.38 343.78L227.64 342.03L227.9 336.4L227.9 284.8L227.9 284.8L228.15 336.4L228.4 356.4L228.65 363.4L229 366.2L229.5 367.7L229.76 367.89L230.02 368.01L230.28 368.08L230.54 368.1L230.8 368.04L231.07 367.92L231.33 367.79L231.59 367.65L231.85 367.48L232.11 367.3L232.37 367.1L232.63 366.9L232.89 366.68L233.15 366.44L233.41 366.19L233.67 365.93L233.93 365.66L234.2 365.39L234.46 365.1L234.72 364.8L234.98 364.5L235.24 364.2L235.5 363.9L235.76 363.61L236.02 363.31L236.28 363.02L236.54 362.72L236.8 362.42L237.07 362.1L237.33 361.76L237.59 361.42L237.85 361.07L238.11 360.72L238.37 360.37L238.63 360.03L238.89 359.7L239.15 359.37L239.41 359.04L239.67 358.7L239.93 358.35L240.2 357.99L240.46 357.63L240.72 357.25L240.98 356.87L241.24 356.49L241.5 356.1L241.76 355.7L242.02 355.3L242.28 354.89L242.54 354.48L242.8 354.06L243.07 353.63L243.33 353.19L243.59 352.74L243.85 352.29L244.11 351.84L244.37 351.4L244.63 350.93L244.89 350.42L245.15 349.82L245.41 349.14L245.67 348.4L245.93 347.6L246.2 346.81L246.46 346.15L246.72 345.33L246.98 343.78L247.24 342.03L247.5 336.4L247.5 284.8L247.5 284.8L247.75 336.4L248 356.4L248.25 363.4L248.6 366.2L249.1 367.7L249.36 367.89L249.62 368.01L249.88 368.08L250.14 368.1L250.4 368.04L250.67 367.92L250.93 367.79L251.19 367.65L251.45 367.48L251.71 367.3L251.97 367.1L252.23 366.9L252.49 366.68L252.75 366.44L253.01 366.19L253.27 365.93L253.53 365.66L253.8 365.39L254.06 365.1L254.32 364.8L254.58 364.5L254.84 364.2L255.1 363.9L255.36 363.61L255.62 363.31L255.88 363.02L256.14 362.72L256.4 362.42L256.67 362.1L256.93 361.76L257.19 361.42L257.45 361.07L257.71 360.72L257.97 360.37L258.23 360.03L258.49 359.7L258.75 359.37L259.01 359.04L259.27 358.7L259.53 358.35L259.8 357.99L260.06 357.63L260.32 357.25L260.58 356.87L260.84 356.49L261.1 356.1L261.36 355.7L261.62 355.3L261.88 354.89L262.14 354.48L262.4 354.06L262.67 353.63L262.93 353.19L263.19 352.74L263.45 352.29L263.71 351.84L263.97 351.4L264.23 350.93L264.49 350.42L264.75 349.82L265.01 349.14L265.27 348.4L265.53 347.6L265.8 346.81L266.06 346.15L266.32 345.33L266.58 343.78L266.84 342.03L267.1 336.4L267.1 284.8L267.1 284.8L267.35 336.4L267.6 356.4L267.85 363.4L268.2 366.2L268.7 367.7L268.96 367.89L269.22 368.01L269.48 368.08L269.74 368.1L270 368.04L270.27 367.92L270.53 367.79L270.79 367.65L271.05 367.48L271.31 367.3L271.57 367.1L271.83 366.9L272.09 366.68L272.35 366.44L272.61 366.19L272.87 365.93L273.13 365.66L273.4 365.39L273.66 365.1L273.92 364.8L274.18 364.5L274.44 364.2L274.7 363.9L274.96 363.61L275.22 363.31L275.48 363.02L275.74 362.72L276 362.42L276.27 362.1L276.53 361.76L276.79 361.42L277.05 361.07L277.31 360.72L277.57 360.37L277.83 360.03L278.09 359.7L278.35 359.37L278.61 359.04L278.87 358.7L279.13 358.35L279.4 357.99L279.66 357.63L279.92 357.25L280.18 356.87L280.44 356.49L280.7 356.1L280.96 355.7L281.22 355.3L281.48 354.89L281.74 354.48L282 354.06L282.27 353.63L282.53 353.19L282.79 352.74L283.05 352.29L283.31 351.84L283.57 351.4L283.83 350.93L284.09 350.42L284.35 349.82L284.61 349.14L284.87 348.4L285.13 347.6L285.4 346.81L285.66 346.15L285.92 345.33L286.18 343.78L286.44 342.03L286.7 336.4L286.7 284.8L286.7 284.8L286.95 336.4L287.2 356.4L287.45 363.4L287.8 366.2L288.3 367.7L288.56 367.89L288.82 368.01L289.08 368.08L289.34 368.1L289.6 368.04L289.87 367.92L290.13 367.79L290.39 367.65L290.65 367.48L290.91 367.3L291.17 367.1L291.43 366.9L291.69 366.68L291.95 366.44L292.21 366.19L292.47 365.93L292.73 365.66L293 365.39L293.26 365.1L293.52 364.8L293.78 364.5L294.04 364.2L294.3 363.9L294.56 363.61L294.82 363.31L295.08 363.02L295.34 362.72L295.6 362.42L295.87 362.1L296.13 361.76L296.39 361.42L296.65 361.07L296.91 360.72L297.17 360.37L297.43 360.03L297.69 359.7L297.95 359.37L298.21 359.04L298.47 358.7L298.73 358.35L299 357.99L299.26 357.63L299.52 357.25L299.78 356.87L300.04 356.49L300.3 356.1L300.56 355.7L300.82 355.3L301.08 354.89L301.34 354.48L301.6 354.06L301.87 353.63L302.13 353.19L302.39 352.74L302.65 352.29L302.91 351.84L303.17 351.4L303.43 350.93L303.69 350.42L303.95 349.82L304.21 349.14L304.47 348.4L304.73 347.6L305 346.81L305.26 346.15L305.52 345.33L305.78 343.78L306.04 342.03L306.3 336.4L306.3 284.8L306.3 284.8L306.55 336.4L306.8 356.4L307.05 363.4L307.4 366.2L307.9 367.7L308.16 367.89L308.42 368.01L308.68 368.08L308.94 368.1L309.2 368.04L309.47 367.92L309.73 367.79L309.99 367.65L310.25 367.48L310.51 367.3L310.77 367.1L311.03 366.9L311.29 366.68L311.55 366.44L311.81 366.19L312.07 365.93L312.33 365.66L312.6 365.39L312.86 365.1L313.12 364.8L313.38 364.5L313.64 364.2L313.9 363.9L314.16 363.61L314.42 363.31L314.68 363.02L314.94 362.72L315.2 362.42L315.47 362.1L315.73 361.76L315.99 361.42L316.25 361.07L316.51 360.72L316.77 360.37L317.03 360.03L317.29 359.7L317.55 359.37L317.81 359.04L318.07 358.7L318.33 358.35L318.6 357.99L318.86 357.63L319.12 357.25L319.38 356.87L319.64 356.49L319.9 356.1L320.16 355.7L320.42 355.3L320.68 354.89L320.94 354.48L321.2 354.06L321.47 353.63L321.73 353.19L321.99 352.74L322.25 352.29L322.51 351.84L322.77 351.4L323.03 350.93L323.29 350.42L323.55 349.82L323.81 349.14L324.07 348.4L324.33 347.6L324.6 346.81L324.86 346.15L325.12 345.33L325.38 343.78L325.64 342.03L325.9 336.4L325.9 284.8L325.9 284.8L326.15 336.4L326.4 356.4L326.65 363.4L327 366.2L327.5 367.7L327.76 367.89L328.02 368.01L328.28 368.08L328.54 368.1L328.8 368.04L329.07 367.92L329.33 367.79L329.59 367.65L329.85 367.48L330.11 367.3L330.37 367.1L330.63 366.9L330.89 366.68L331.15 366.44L331.41 366.19L331.67 365.93L331.93 365.66L332.2 365.39L332.46 365.1L332.72 364.8L332.98 364.5L333.24 364.2L333.5 363.9L333.76 363.61L334.02 363.31L334.28 363.02L334.54 362.72L334.8 362.42L335.07 362.1L335.33 361.76L335.59 361.42L335.85 361.07L336.11 360.72L336.37 360.37L336.63 360.03L336.89 359.7L337.15 359.37L337.41 359.04L337.67 358.7L337.93 358.35L338.2 357.99L338.46 357.63L338.72 357.25L338.98 356.87L339.24 356.49L339.5 356.1L339.76 355.7L340.02 355.3L340.28 354.89L340.54 354.48L340.8 354.06L341.07 353.63L341.33 353.19L341.59 352.74L341.85 352.29L342.11 351.84L342.37 351.4L342.63 350.93L342.89 350.42L343.15 349.82L343.41 349.14L343.67 348.4L343.93 347.6L344.2 346.81L344.46 346.15L344.72 345.33L344.98 343.78L345.24 342.03L345.5 336.4L345.5 284.8L345.5 284.8L345.75 336.4L346 356.4L346.25 363.4L346.6 366.2L347.1 367.7L347.36 367.89L347.62 368.01L347.88 368.08L348.14 368.1L348.4 368.04L348.67 367.92L348.93 367.79L349.19 367.65L349.45 367.48L349.71 367.3L349.97 367.1L350.23 366.9L350.49 366.68L350.75 366.44L351.01 366.19L351.27 365.93L351.53 365.66L351.8 365.39L352.06 365.1L352.32 364.8L352.58 364.5L352.84 364.2L353.1 363.9L353.36 363.61L353.62 363.31L353.88 363.02L354.14 362.72L354.4 362.42L354.67 362.1L354.93 361.76L355.19 361.42L355.45 361.07L355.71 360.72L355.97 360.37L356.23 360.03L356.49 359.7L356.75 359.37L357.01 359.04L357.27 358.7L357.53 358.35L357.8 357.99L358.06 357.63L358.32 357.25L358.58 356.87L358.84 356.49L359.1 356.1L359.36 355.7L359.62 355.3L359.88 354.89L360.14 354.48L360.4 354.06L360.67 353.63L360.93 353.19L361.19 352.74L361.45 352.29L361.71 351.84L361.97 351.4L362.23 350.93L362.49 350.42L362.75 349.82L363.01 349.14L363.27 348.4L363.53 347.6L363.8 346.81L364.06 346.15L364.32 345.33L364.58 343.78L364.84 342.03L365.1 336.4L365.1 284.8L365.1 284.8L365.35 336.4L365.6 356.4L365.85 363.4L366.2 366.2L366.7 367.7L366.96 367.89L367.22 368.01L367.48 368.08L367.74 368.1L368 368.04L368.27 367.92L368.53 367.79L368.79 367.65L369.05 367.48L369.31 367.3L369.57 367.1L369.83 366.9L370.09 366.68L370.35 366.44L370.61 366.19L370.87 365.93L371.13 365.66L371.4 365.39L371.66 365.1L371.92 364.8L372.18 364.5L372.44 364.2L372.7 363.9L372.96 363.61L373.22 363.31L373.48 363.02L373.74 362.72L374 362.42L374.27 362.1L374.53 361.76L374.79 361.42L375.05 361.07L375.31 360.72L375.57 360.37L375.83 360.03L376.09 359.7L376.35 359.37L376.61 359.04L376.87 358.7L377.13 358.35L377.4 357.99L377.66 357.63L377.92 357.25L378.18 356.87L378.44 356.49L378.7 356.1L378.96 355.7L379.22 355.3L379.48 354.89L379.74 354.48L380 354.06L380.27 353.63L380.53 353.19L380.79 352.74L381.05 352.29L381.31 351.84L381.57 351.4L381.83 350.93L382.09 350.42L382.35 349.82L382.61 349.14L382.87 348.4L383.13 347.6L383.4 346.81L383.66 346.15L383.92 345.33L384.18 343.78L384.44 342.03L384.7 336.4L384.7 284.8L384.7 284.8L384.95 336.4L385.2 356.4L385.45 363.4L385.8 366.2L386.3 367.7L386.56 367.89L386.82 368.01L387.08 368.08L387.34 368.1L387.6 368.04L387.87 367.92L388.13 367.79L388.39 367.65L388.65 367.48L388.91 367.3L389.17 367.1L389.43 366.9L389.69 366.68L389.95 366.44L390.21 366.19L390.47 365.93L390.73 365.66L391 365.39L391.26 365.1L391.52 364.8L391.78 364.5L392.04 364.2L392.3 363.9L392.56 363.61L392.82 363.31L393.08 363.02L393.34 362.72L393.6 362.42L393.87 362.1L394.13 361.76L394.39 361.42L394.65 361.07L394.91 360.72L395.17 360.37L395.43 360.03L395.69 359.7L395.95 359.37L396.21 359.04L396.47 358.7L396.73 358.35L397 357.99L397.26 357.63L397.52 357.25L397.78 356.87L398.04 356.49L398.3 356.1L398.56 355.7L398.82 355.3L399.08 354.89L399.34 354.48L399.6 354.06L399.87 353.63L400.13 353.19L400.39 352.74L400.65 352.29L400.91 351.84L401.17 351.4L401.43 350.93L401.69 350.42L401.95 349.82L402.21 349.14L402.47 348.4L402.73 347.6L403 346.81L403.26 346.15L403.52 345.33L403.78 343.78L404.04 342.03L404.3 336.4L404.3 284.8L404.3 284.8L404.55 336.4L404.8 356.4L405.05 363.4L405.4 366.2L405.9 367.7L406.16 367.89L406.42 368.01L406.68 368.08L406.94 368.1L407.2 368.04L407.47 367.92L407.73 367.79L407.99 367.65L408.25 367.48L408.51 367.3L408.77 367.1L409.03 366.9L409.29 366.68L409.55 366.44L409.81 366.19L410.07 365.93L410.33 365.66L410.6 365.39L410.86 365.1L411.12 364.8L411.38 364.5L411.64 364.2L411.9 363.9L412.16 363.61L412.42 363.31L412.68 363.02L412.94 362.72L413.2 362.42L413.47 362.1L413.73 361.76L413.99 361.42L414.25 361.07L414.51 360.72L414.77 360.37L415.03 360.03L415.29 359.7L415.55 359.37L415.81 359.04L416.07 358.7L416.33 358.35L416.6 357.99L416.86 357.63L417.12 357.25L417.38 356.87L417.64 356.49L417.9 356.1L418.16 355.7L418.42 355.3L418.68 354.89L418.94 354.48L419.2 354.06L419.47 353.63L419.73 353.19L419.99 352.74L420.25 352.29L420.51 351.84L420.77 351.4L421.03 350.93L421.29 350.42L421.55 349.82L421.81 349.14L422.07 348.4L422.33 347.6L422.6 346.81L422.86 346.15L423.12 345.33L423.38 343.78L423.64 342.03L423.9 336.4L423.9 284.8L423.9 284.8L424.15 336.4L424.4 356.4L424.65 363.4L425 366.2L425.5 367.7L425.76 367.89L426.02 368.01L426.28 368.08L426.54 368.1L426.8 368.04L427.07 367.92L427.33 367.79L427.59 367.65L427.85 367.48L428.11 367.3L428.37 367.1L428.63 366.9L428.89 366.68L429.15 366.44L429.41 366.19L429.67 365.93L429.93 365.66L430.2 365.39L430.46 365.1L430.72 364.8L430.98 364.5L431.24 364.2L431.5 363.9L431.76 363.61L432.02 363.31L432.28 363.02L432.54 362.72L432.8 362.42L433.07 362.1L433.33 361.76L433.59 361.42L433.85 361.07L434.11 360.72L434.37 360.37L434.63 360.03L434.89 359.7L435.15 359.37L435.41 359.04L435.67 358.7L435.93 358.35L436.2 357.99L436.46 357.63L436.72 357.25L436.98 356.87L437.24 356.49L437.5 356.1L437.76 355.7L438.02 355.3L438.28 354.89L438.54 354.48L438.8 354.06L439.07 353.63L439.33 353.19L439.59 352.74L439.85 352.29L440.11 351.84L440.37 351.4L440.63 350.93L440.89 350.42L441.15 349.82L441.41 349.14L441.67 348.4L441.93 347.6L442.2 346.81L442.46 346.15L442.72 345.33L442.98 343.78L443.24 342.03L443.5 336.4L443.5 284.8L443.5 284.8L443.75 336.4L444 356.4L444.25 363.4L444.6 366.2L445.1 367.7L445.36 367.89L445.62 368.01L445.88 368.08L446.14 368.1L446.4 368.04L446.67 367.92L446.93 367.79L447.19 367.65L447.45 367.48L447.71 367.3L447.97 367.1L448.23 366.9L448.49 366.68L448.75 366.44L449.01 366.19L449.27 365.93L449.53 365.66L449.8 365.39L450.06 365.1L450.32 364.8L450.58 364.5L450.84 364.2L451.1 363.9L451.36 363.61L451.62 363.31L451.88 363.02L452.14 362.72L452.4 362.42L452.67 362.1L452.93 361.76L453.19 361.42L453.45 361.07L453.71 360.72L453.97 360.37L454.23 360.03L454.49 359.7L454.75 359.37L455.01 359.04L455.27 358.7L455.53 358.35L455.8 357.99L456.06 357.63L456.32 357.25L456.58 356.87L456.84 356.49L457.1 356.1L457.36 355.7L457.62 355.3L457.88 354.89L458.14 354.48L458.4 354.06L458.67 353.63L458.93 353.19L459.19 352.74L459.45 352.29L459.71 351.84L459.97 351.4L460.23 350.93L460.49 350.42L460.75 349.82L461.01 349.14L461.27 348.4L461.53 347.6L461.8 346.81L462.06 346.15L462.32 345.33L462.58 343.78L462.84 342.03L463.1 336.4L463.1 284.8L463.1 284.8L463.35 336.4L463.6 356.4L463.85 363.4L464.2 366.2L464.7 367.7L464.96 367.89L465.22 368.01L465.48 368.08L465.74 368.1L466 368.04L466.27 367.92L466.53 367.79L466.79 367.65L467.05 367.48L467.31 367.3L467.57 367.1L467.83 366.9L468.09 366.68L468.35 366.44L468.61 366.19L468.87 365.93L469.13 365.66L469.4 365.39L469.66 365.1L469.92 364.8L470.18 364.5L470.44 364.2L470.7 363.9L470.96 363.61L471.22 363.31L471.48 363.02L471.74 362.72L472 362.42L472.27 362.1L472.53 361.76L472.79 361.42L473.05 361.07L473.31 360.72L473.57 360.37L473.83 360.03L474.09 359.7L474.35 359.37L474.61 359.04L474.87 358.7L475.13 358.35L475.4 357.99L475.66 357.63L475.92 357.25L476.18 356.87L476.44 356.49L476.7 356.1L476.96 355.7L477.22 355.3L477.48 354.89L477.74 354.48L478 354.06L478.27 353.63L478.53 353.19L478.79 352.74L479.05 352.29L479.31 351.84L479.57 351.4L479.83 350.93L480.09 350.42L480.35 349.82L480.61 349.14L480.87 348.4L481.13 347.6L481.4 346.81L481.66 346.15L481.92 345.33L482.18 343.78L482.44 342.03L482.7 336.4L482.7 284.8L482.7 284.8L482.95 336.4L483.2 356.4L483.45 363.4L483.8 366.2L484.3 367.7L484.56 367.89L484.82 368.01L485.08 368.08L485.34 368.1L485.6 368.04L485.87 367.92L486.13 367.79L486.39 367.65L486.65 367.48L486.91 367.3L487.17 367.1L487.43 366.9L487.69 366.68L487.95 366.44L488.21 366.19L488.47 365.93L488.73 365.66L489 365.39L489.26 365.1L489.52 364.8L489.78 364.5L490.04 364.2L490.3 363.9L490.56 363.61L490.82 363.31L491.08 363.02L491.34 362.72L491.6 362.42L491.87 362.1L492.13 361.76L492.39 361.42L492.65 361.07L492.91 360.72L493.17 360.37L493.43 360.03L493.69 359.7L493.95 359.37L494.21 359.04L494.47 358.7L494.73 358.35L495 357.99L495.26 357.63L495.52 357.25L495.78 356.87L496.04 356.49L496.3 356.1L496.56 355.7L496.82 355.3L497.08 354.89L497.34 354.48L497.6 354.06L497.87 353.63L498.13 353.19L498.39 352.74L498.65 352.29L498.91 351.84L499.17 351.4L499.43 350.93L499.69 350.42L499.95 349.82L500.21 349.14L500.47 348.4L500.73 347.6L501 346.81L501.26 346.15L501.52 345.33L501.78 343.78L502.04 342.03L502.3 336.4L502.3 284.8L502.3 284.8L502.55 336.4L502.8 356.4L503.05 363.4L503.4 366.2L503.9 367.7L504.16 367.89L504.42 368.01L504.68 368.08L504.94 368.1L505.2 368.04L505.47 367.92L505.73 367.79L505.99 367.65L506.25 367.48L506.51 367.3L506.77 367.1L507.03 366.9L507.29 366.68L507.55 366.44L507.81 366.19L508.07 365.93L508.33 365.66L508.6 365.39L508.86 365.1L509.12 364.8L509.38 364.5L509.64 364.2L509.9 363.9L510.16 363.61L510.42 363.31L510.68 363.02L510.94 362.72L511.2 362.42L511.47 362.1L511.73 361.76L511.99 361.42L512.25 361.07L512.51 360.72L512.77 360.37L513.03 360.03L513.29 359.7L513.55 359.37L513.81 359.04L514.07 358.7L514.33 358.35L514.6 357.99L514.86 357.63L515.12 357.25L515.38 356.87L515.64 356.49L515.9 356.1L516.16 355.7L516.42 355.3L516.68 354.89L516.94 354.48L517.2 354.06L517.47 353.63L517.73 353.19L517.99 352.74L518.25 352.29L518.51 351.84L518.77 351.4L519.03 350.93L519.29 350.42L519.55 349.82L519.81 349.14L520.07 348.4L520.33 347.6L520.6 346.81L520.86 346.15L521.12 345.33L521.38 343.78L521.64 342.03L521.9 336.4L521.9 284.8L521.9 284.8L522.15 336.4L522.4 356.4L522.65 363.4L523 366.2L523.5 367.7L523.76 367.89L524.02 368.01L524.28 368.08L524.54 368.1L524.8 368.04L525.07 367.92L525.33 367.79L525.59 367.65L525.85 367.48L526.11 367.3L526.37 367.1L526.63 366.9L526.89 366.68L527.15 366.44L527.41 366.19L527.67 365.93L527.93 365.66L528.2 365.39L528.46 365.1L528.72 364.8L528.98 364.5L529.24 364.2L529.5 363.9L529.76 363.61L530.02 363.31L530.28 363.02L530.54 362.72L530.8 362.42L531.07 362.1L531.33 361.76L531.59 361.42L531.85 361.07L532.11 360.72L532.37 360.37L532.63 360.03L532.89 359.7L533.15 359.37L533.41 359.04L533.67 358.7L533.93 358.35L534.2 357.99L534.46 357.63L534.72 357.25L534.98 356.87L535.24 356.49L535.5 356.1L535.76 355.7L536.02 355.3L536.28 354.89L536.54 354.48L536.8 354.06L537.07 353.63L537.33 353.19L537.59 352.74L537.85 352.29L538.11 351.84L538.37 351.4L538.63 350.93L538.89 350.42L539.15 349.82L539.41 349.14L539.67 348.4L539.93 347.6L540.2 346.81L540.46 346.15L540.72 345.33L540.98 343.78L541.24 342.03L541.5 336.4L541.5 284.8L541.5 284.8L541.75 336.4L542 356.4L542.25 363.4L542.6 366.2L543.1 367.7L543.36 367.89L543.62 368.01L543.88 368.08L544.14 368.1L544.4 368.04L544.67 367.92L544.93 367.79L545.19 367.65L545.45 367.48L545.71 367.3L545.97 367.1L546.23 366.9L546.49 366.68L546.75 366.44L547.01 366.19L547.27 365.93L547.53 365.66L547.8 365.39L548.06 365.1L548.32 364.8L548.58 364.5L548.84 364.2L549.1 363.9L549.36 363.61L549.62 363.31L549.88 363.02L550.14 362.72L550.4 362.42L550.67 362.1L550.93 361.76L551.19 361.42L551.45 361.07L551.71 360.72L551.97 360.37L552.23 360.03L552.49 359.7L552.75 359.37L553.01 359.04L553.27 358.7L553.53 358.35L553.8 357.99L554.06 357.63L554.32 357.25L554.58 356.87L554.84 356.49L555.1 356.1L555.36 355.7L555.62 355.3L555.88 354.89L556.14 354.48L556.4 354.06L556.67 353.63L556.93 353.19L557.19 352.74L557.45 352.29L557.71 351.84L557.97 351.4L558.23 350.93L558.49 350.42L558.75 349.82L559.01 349.14L559.27 348.4L559.53 347.6L559.8 346.81L560.06 346.15L560.32 345.33L560.58 343.78L560.84 342.03L561.1 336.4L561.1 284.8L561.1 284.8L561.35 336.4L561.6 356.4L561.85 363.4L562.2 366.2L562.7 367.7L562.96 367.89L563.22 368.01L563.48 368.08L563.74 368.1L564 368.04L564.27 367.92L564.53 367.79L564.79 367.65L565.05 367.48L565.31 367.3L565.57 367.1L565.83 366.9L566.09 366.68L566.35 366.44L566.61 366.19L566.87 365.93L567.13 365.66L567.4 365.39L567.66 365.1L567.92 364.8L568.18 364.5L568.44 364.2L568.7 363.9L568.96 363.61L569.22 363.31L569.48 363.02L569.74 362.72L570 362.42L570.27 362.1L570.53 361.76L570.79 361.42L571.05 361.07L571.31 360.72L571.57 360.37L571.83 360.03L572.09 359.7L572.35 359.37L572.61 359.04L572.87 358.7L573.13 358.35L573.4 357.99L573.66 357.63L573.92 357.25L574.18 356.87L574.44 356.49L574.7 356.1L574.96 355.7L575.22 355.3L575.48 354.89L575.74 354.48L576 354.06L576.27 353.63L576.53 353.19L576.79 352.74L577.05 352.29L577.31 351.84L577.57 351.4L577.83 350.93L578.09 350.42L578.35 349.82L578.61 349.14L578.87 348.4L579.13 347.6L579.4 346.81L579.66 346.15L579.92 345.33L580.18 343.78L580.44 342.03L580.7 336.4L580.7 284.8L580.7 284.8L580.95 336.4L581.2 356.4L581.45 363.4L581.8 366.2L582.3 367.7L582.56 367.89L582.82 368.01L583.08 368.08L583.34 368.1L583.6 368.04L583.87 367.92L584.13 367.79L584.39 367.65L584.65 367.48L584.91 367.3L585.17 367.1L585.43 366.9L585.69 366.68L585.95 366.44L586.21 366.19L586.47 365.93L586.73 365.66L587 365.39L587.26 365.1L587.52 364.8L587.78 364.5L588.04 364.2L588.3 363.9L588.56 363.61L588.82 363.31L589.08 363.02L589.34 362.72L589.6 362.42L589.87 362.1L590.13 361.76L590.39 361.42L590.65 361.07L590.91 360.72L591.17 360.37L591.43 360.03L591.69 359.7L591.95 359.37L592.21 359.04L592.47 358.7L592.73 358.35L593 357.99L593.26 357.63L593.52 357.25L593.78 356.87L594.04 356.49L594.3 356.1L594.56 355.7L594.82 355.3L595.08 354.89L595.34 354.48L595.6 354.06L595.87 353.63L596.13 353.19L596.39 352.74L596.65 352.29L596.91 351.84L597.17 351.4L597.43 350.93L597.69 350.42L597.95 349.82L598.21 349.14L598.47 348.4L598.73 347.6L599 346.81L599.26 346.15L599.52 345.33L599.78 343.78L600.04 342.03L600.3 336.4L600.3 284.8L600.3 284.8L600.55 336.4L600.8 356.4L601.05 363.4L601.4 366.2L601.9 367.7L602.16 367.89L602.42 368.01L602.68 368.08L602.94 368.1L603.2 368.04L603.47 367.92L603.73 367.79L603.99 367.65L604.25 367.48L604.51 367.3L604.77 367.1L605.03 366.9L605.29 366.68L605.55 366.44L605.81 366.19L606.07 365.93L606.33 365.66L606.6 365.39L606.86 365.1L607.12 364.8L607.38 364.5L607.64 364.2L607.9 363.9L608.16 363.61L608.42 363.31L608.68 363.02L608.94 362.72L609.2 362.42L609.47 362.1L609.73 361.76L609.99 361.42L610.25 361.07L610.51 360.72L610.77 360.37L611.03 360.03L611.29 359.7L611.55 359.37L611.81 359.04L612.07 358.7L612.33 358.35L612.6 357.99L612.86 357.63L613.1 357.28" class="r"/>
<path d="M70.3 366.96L71 366.4L71.4 367.51L71.72 367.29L72.04 367.05L72.36 366.79L72.68 366.5L73 366.2L73.32 365.88L73.64 365.55L73.96 365.21L74.28 364.84L74.6 364.47L74.92 364.1L75.24 363.74L75.57 363.38L75.89 363.02L76.21 362.65L76.53 362.27L76.85 361.86L77.17 361.44L77.49 361.01L77.81 360.58L78.13 360.16L78.45 359.75L78.77 359.35L79.09 358.94L79.41 358.52L79.73 358.08L80.05 357.64L80.37 357.18L80.69 356.71L81.01 356.23L81.33 355.75L81.65 355.25L81.97 354.75L82.29 354.24L82.61 353.71L82.93 353.17L83.26 352.63L83.58 352.07L83.9 351.53L84.22 350.96L84.54 350.32L84.86 349.55L85.18 348.68L85.5 347.72L85.82 346.75L86.14 345.93L86.46 344.58L86.78 342.4L87.1 336.4L87.1 284.8L87.1 284.8L87.35 336.4L87.55 361.4L88 367.2L88.7 367.8L89.1 367.6L90.6 366.4L91 367.51L91.32 367.29L91.64 367.05L91.96 366.79L92.28 366.5L92.6 366.2L92.92 365.88L93.24 365.55L93.56 365.21L93.88 364.84L94.2 364.47L94.52 364.1L94.84 363.74L95.17 363.38L95.49 363.02L95.81 362.65L96.13 362.27L96.45 361.86L96.77 361.44L97.09 361.01L97.41 360.58L97.73 360.16L98.05 359.75L98.37 359.35L98.69 358.94L99.01 358.52L99.33 358.08L99.65 357.64L99.97 357.18L100.29 356.71L100.61 356.23L100.93 355.75L101.25 355.25L101.57 354.75L101.89 354.24L102.21 353.71L102.53 353.17L102.86 352.63L103.18 352.07L103.5 351.53L103.82 350.96L104.14 350.32L104.46 349.55L104.78 348.68L105.1 347.72L105.42 346.75L105.74 345.93L106.06 344.58L106.38 342.4L106.7 336.4L106.7 284.8L106.7 284.8L106.95 336.4L107.15 361.4L107.6 367.2L108.3 367.8L108.7 367.6L110.2 366.4L110.6 367.51L110.92 367.29L111.24 367.05L111.56 366.79L111.88 366.5L112.2 366.2L112.52 365.88L112.84 365.55L113.16 365.21L113.48 364.84L113.8 364.47L114.12 364.1L114.44 363.74L114.77 363.38L115.09 363.02L115.41 362.65L115.73 362.27L116.05 361.86L116.37 361.44L116.69 361.01L117.01 360.58L117.33 360.16L117.65 359.75L117.97 359.35L118.29 358.94L118.61 358.52L118.93 358.08L119.25 357.64L119.57 357.18L119.89 356.71L120.21 356.23L120.53 355.75L120.85 355.25L121.17 354.75L121.49 354.24L121.81 353.71L122.13 353.17L122.46 352.63L122.78 352.07L123.1 351.53L123.42 350.96L123.74 350.32L124.06 349.55L124.38 348.68L124.7 347.72L125.02 346.75L125.34 345.93L125.66 344.58L125.98 342.4L126.3 336.4L126.3 284.8L126.3 284.8L126.55 336.4L126.75 361.4L127.2 367.2L127.9 367.8L128.3 367.6L129.8 366.4L130.2 367.51L130.52 367.29L130.84 367.05L131.16 366.79L131.48 366.5L131.8 366.2L132.12 365.88L132.44 365.55L132.76 365.21L133.08 364.84L133.4 364.47L133.72 364.1L134.04 363.74L134.37 363.38L134.69 363.02L135.01 362.65L135.33 362.27L135.65 361.86L135.97 361.44L136.29 361.01L136.61 360.58L136.93 360.16L137.25 359.75L137.57 359.35L137.89 358.94L138.21 358.52L138.53 358.08L138.85 357.64L139.17 357.18L139.49 356.71L139.81 356.23L140.13 355.75L140.45 355.25L140.77 354.75L141.09 354.24L141.41 353.71L141.73 353.17L142.06 352.63L142.38 352.07L142.7 351.53L143.02 350.96L143.34 350.32L143.66 349.55L143.98 348.68L144.3 347.72L144.62 346.75L144.94 345.93L145.26 344.58L145.58 342.4L145.9 336.4L145.9 284.8L145.9 284.8L146.15 336.4L146.35 361.4L146.8 367.2L147.5 367.8L147.9 367.6L149.4 366.4L149.8 367.51L150.12 367.29L150.44 367.05L150.76 366.79L151.08 366.5L151.4 366.2L151.72 365.88L152.04 365.55L152.36 365.21L152.68 364.84L153 364.47L153.32 364.1L153.64 363.74L153.97 363.38L154.29 363.02L154.61 362.65L154.93 362.27L155.25 361.86L155.57 361.44L155.89 361.01L156.21 360.58L156.53 360.16L156.85 359.75L157.17 359.35L157.49 358.94L157.81 358.52L158.13 358.08L158.45 357.64L158.77 357.18L159.09 356.71L159.41 356.23L159.73 355.75L160.05 355.25L160.37 354.75L160.69 354.24L161.01 353.71L161.33 353.17L161.66 352.63L161.98 352.07L162.3 351.53L162.62 350.96L162.94 350.32L163.26 349.55L163.58 348.68L163.9 347.72L164.22 346.75L164.54 345.93L164.86 344.58L165.18 342.4L165.5 336.4L165.5 284.8L165.5 284.8L165.75 336.4L165.95 361.4L166.4 367.2L167.1 367.8L167.5 367.6L169 366.4L169.4 367.51L169.72 367.29L170.04 367.05L170.36 366.79L170.68 366.5L171 366.2L171.32 365.88L171.64 365.55L171.96 365.21L172.28 364.84L172.6 364.47L172.92 364.1L173.24 363.74L173.57 363.38L173.89 363.02L174.21 362.65L174.53 362.27L174.85 361.86L175.17 361.44L175.49 361.01L175.81 360.58L176.13 360.16L176.45 359.75L176.77 359.35L177.09 358.94L177.41 358.52L177.73 358.08L178.05 357.64L178.37 357.18L178.69 356.71L179.01 356.23L179.33 355.75L179.65 355.25L179.97 354.75L180.29 354.24L180.61 353.71L180.93 353.17L181.26 352.63L181.58 352.07L181.9 351.53L182.22 350.96L182.54 350.32L182.86 349.55L183.18 348.68L183.5 347.72L183.82 346.75L184.14 345.93L184.46 344.58L184.78 342.4L185.1 336.4L185.1 284.8L185.1 284.8L185.35 336.4L185.55 361.4L186 367.2L186.7 367.8L187.1 367.6L188.6 366.4L189 367.51L189.32 367.29L189.64 367.05L189.96 366.79L190.28 366.5L190.6 366.2L190.92 365.88L191.24 365.55L191.56 365.21L191.88 364.84L192.2 364.47L192.52 364.1L192.84 363.74L193.17 363.38L193.49 363.02L193.81 362.65L194.13 362.27L194.45 361.86L194.77 361.44L195.09 361.01L195.41 360.58L195.73 360.16L196.05 359.75L196.37 359.35L196.69 358.94L197.01 358.52L197.33 358.08L197.65 357.64L197.97 357.18L198.29 356.71L198.61 356.23L198.93 355.75L199.25 355.25L199.57 354.75L199.89 354.24L200.21 353.71L200.53 353.17L200.86 352.63L201.18 352.07L201.5 351.53L201.82 350.96L202.14 350.32L202.46 349.55L202.78 348.68L203.1 347.72L203.42 346.75L203.74 345.93L204.06 344.58L204.38 342.4L204.7 336.4L204.7 284.8L204.7 284.8L204.95 336.4L205.15 361.4L205.6 367.2L206.3 367.8L206.7 367.6L208.2 366.4L208.6 367.51L208.92 367.29L209.24 367.05L209.56 366.79L209.88 366.5L210.2 366.2L210.52 365.88L210.84 365.55L211.16 365.21L211.48 364.84L211.8 364.47L212.12 364.1L212.44 363.74L212.77 363.38L213.09 363.02L213.41 362.65L213.73 362.27L214.05 361.86L214.37 361.44L214.69 361.01L215.01 360.58L215.33 360.16L215.65 359.75L215.97 359.35L216.29 358.94L216.61 358.52L216.93 358.08L217.25 357.64L217.57 357.18L217.89 356.71L218.21 356.23L218.53 355.75L218.85 355.25L219.17 354.75L219.49 354.24L219.81 353.71L220.13 353.17L220.46 352.63L220.78 352.07L221.1 351.53L221.42 350.96L221.74 350.32L222.06 349.55L222.38 348.68L222.7 347.72L223.02 346.75L223.34 345.93L223.66 344.58L223.98 342.4L224.3 336.4L224.3 284.8L224.3 284.8L224.55 336.4L224.75 361.4L225.2 367.2L225.9 367.8L226.3 367.6L227.8 366.4L228.2 367.51L228.52 367.29L228.84 367.05L229.16 366.79L229.48 366.5L229.8 366.2L230.12 365.88L230.44 365.55L230.76 365.21L231.08 364.84L231.4 364.47L231.72 364.1L232.04 363.74L232.37 363.38L232.69 363.02L233.01 362.65L233.33 362.27L233.65 361.86L233.97 361.44L234.29 361.01L234.61 360.58L234.93 360.16L235.25 359.75L235.57 359.35L235.89 358.94L236.21 358.52L236.53 358.08L236.85 357.64L237.17 357.18L237.49 356.71L237.81 356.23L238.13 355.75L238.45 355.25L238.77 354.75L239.09 354.24L239.41 353.71L239.73 353.17L240.06 352.63L240.38 352.07L240.7 351.53L241.02 350.96L241.34 350.32L241.66 349.55L241.98 348.68L242.3 347.72L242.62 346.75L242.94 345.93L243.26 344.58L243.58 342.4L243.9 336.4L243.9 284.8L243.9 284.8L244.15 336.4L244.35 361.4L244.8 367.2L245.5 367.8L245.9 367.6L247.4 366.4L247.8 367.51L248.12 367.29L248.44 367.05L248.76 366.79L249.08 366.5L249.4 366.2L249.72 365.88L250.04 365.55L250.36 365.21L250.68 364.84L251 364.47L251.32 364.1L251.64 363.74L251.97 363.38L252.29 363.02L252.61 362.65L252.93 362.27L253.25 361.86L253.57 361.44L253.89 361.01L254.21 360.58L254.53 360.16L254.85 359.75L255.17 359.35L255.49 358.94L255.81 358.52L256.13 358.08L256.45 357.64L256.77 357.18L257.09 356.71L257.41 356.23L257.73 355.75L258.05 355.25L258.37 354.75L258.69 354.24L259.01 353.71L259.33 353.17L259.66 352.63L259.98 352.07L260.3 351.53L260.62 350.96L260.94 350.32L261.26 349.55L261.58 348.68L261.9 347.72L262.22 346.75L262.54 345.93L262.86 344.58L263.18 342.4L263.5 336.4L263.5 284.8L263.5 284.8L263.75 336.4L263.95 361.4L264.4 367.2L265.1 367.8L265.5 367.6L267 366.4L267.4 367.51L267.72 367.29L268.04 367.05L268.36 366.79L268.68 366.5L269 366.2L269.32 365.88L269.64 365.55L269.96 365.21L270.28 364.84L270.6 364.47L270.92 364.1L271.24 363.74L271.57 363.38L271.89 363.02L272.21 362.65L272.53 362.27L272.85 361.86L273.17 361.44L273.49 361.01L273.81 360.58L274.13 360.16L274.45 359.75L274.77 359.35L275.09 358.94L275.41 358.52L275.73 358.08L276.05 357.64L276.37 357.18L276.69 356.71L277.01 356.23L277.33 355.75L277.65 355.25L277.97 354.75L278.29 354.24L278.61 353.71L278.93 353.17L279.26 352.63L279.58 352.07L279.9 351.53L280.22 350.96L280.54 350.32L280.86 349.55L281.18 348.68L281.5 347.72L281.82 346.75L282.14 345.93L282.46 344.58L282.78 342.4L283.1 336.4L283.1 284.8L283.1 284.8L283.35 336.4L283.55 361.4L284 367.2L284.7 367.8L285.1 367.6L286.6 366.4L287 367.51L287.32 367.29L287.64 367.05L287.96 366.79L288.28 366.5L288.6 366.2L288.92 365.88L289.24 365.55L289.56 365.21L289.88 364.84L290.2 364.47L290.52 364.1L290.84 363.74L291.17 363.38L291.49 363.02L291.81 362.65L292.13 362.27L292.45 361.86L292.77 361.44L293.09 361.01L293.41 360.58L293.73 360.16L294.05 359.75L294.37 359.35L294.69 358.94L295.01 358.52L295.33 358.08L295.65 357.64L295.97 357.18L296.29 356.71L296.61 356.23L296.93 355.75L297.25 355.25L297.57 354.75L297.89 354.24L298.21 353.71L298.53 353.17L298.86 352.63L299.18 352.07L299.5 351.53L299.82 350.96L300.14 350.32L300.46 349.55L300.78 348.68L301.1 347.72L301.42 346.75L301.74 345.93L302.06 344.58L302.38 342.4L302.7 336.4L302.7 284.8L302.7 284.8L302.95 336.4L303.15 361.4L303.6 367.2L304.3 367.8L304.7 367.6L306.2 366.4L306.6 367.51L306.92 367.29L307.24 367.05L307.56 366.79L307.88 366.5L308.2 366.2L308.52 365.88L308.84 365.55L309.16 365.21L309.48 364.84L309.8 364.47L310.12 364.1L310.44 363.74L310.77 363.38L311.09 363.02L311.41 362.65L311.73 362.27L312.05 361.86L312.37 361.44L312.69 361.01L313.01 360.58L313.33 360.16L313.65 359.75L313.97 359.35L314.29 358.94L314.61 358.52L314.93 358.08L315.25 357.64L315.57 357.18L315.89 356.71L316.21 356.23L316.53 355.75L316.85 355.25L317.17 354.75L317.49 354.24L317.81 353.71L318.13 353.17L318.46 352.63L318.78 352.07L319.1 351.53L319.42 350.96L319.74 350.32L320.06 349.55L320.38 348.68L320.7 347.72L321.02 346.75L321.34 345.93L321.66 344.58L321.98 342.4L322.3 336.4L322.3 284.8L322.3 284.8L322.55 336.4L322.75 361.4L323.2 367.2L323.9 367.8L324.3 367.6L325.8 366.4L326.2 367.51L326.52 367.29L326.84 367.05L327.16 366.79L327.48 366.5L327.8 366.2L328.12 365.88L328.44 365.55L328.76 365.21L329.08 364.84L329.4 364.47L329.72 364.1L330.04 363.74L330.37 363.38L330.69 363.02L331.01 362.65L331.33 362.27L331.65 361.86L331.97 361.44L332.29 361.01L332.61 360.58L332.93 360.16L333.25 359.75L333.57 359.35L333.89 358.94L334.21 358.52L334.53 358.08L334.85 357.64L335.17 357.18L335.49 356.71L335.81 356.23L336.13 355.75L336.45 355.25L336.77 354.75L337.09 354.24L337.41 353.71L337.73 353.17L338.06 352.63L338.38 352.07L338.7 351.53L339.02 350.96L339.34 350.32L339.66 349.55L339.98 348.68L340.3 347.72L340.62 346.75L340.94 345.93L341.26 344.58L341.58 342.4L341.9 336.4L341.9 284.8L341.9 284.8L342.15 336.4L342.35 361.4L342.8 367.2L343.5 367.8L343.9 367.6L345.4 366.4L345.8 367.51L346.12 367.29L346.44 367.05L346.76 366.79L347.08 366.5L347.4 366.2L347.72 365.88L348.04 365.55L348.36 365.21L348.68 364.84L349 364.47L349.32 364.1L349.64 363.74L349.97 363.38L350.29 363.02L350.61 362.65L350.93 362.27L351.25 361.86L351.57 361.44L351.89 361.01L352.21 360.58L352.53 360.16L352.85 359.75L353.17 359.35L353.49 358.94L353.81 358.52L354.13 358.08L354.45 357.64L354.77 357.18L355.09 356.71L355.41 356.23L355.73 355.75L356.05 355.25L356.37 354.75L356.69 354.24L357.01 353.71L357.33 353.17L357.66 352.63L357.98 352.07L358.3 351.53L358.62 350.96L358.94 350.32L359.26 349.55L359.58 348.68L359.9 347.72L360.22 346.75L360.54 345.93L360.86 344.58L361.18 342.4L361.5 336.4L361.5 284.8L361.5 284.8L361.75 336.4L361.95 361.4L362.4 367.2L363.1 367.8L363.5 367.6L365 366.4L365.4 367.51L365.72 367.29L366.04 367.05L366.36 366.79L366.68 366.5L367 366.2L367.32 365.88L367.64 365.55L367.96 365.21L368.28 364.84L368.6 364.47L368.92 364.1L369.24 363.74L369.57 363.38L369.89 363.02L370.21 362.65L370.53 362.27L370.85 361.86L371.17 361.44L371.49 361.01L371.81 360.58L372.13 360.16L372.45 359.75L372.77 359.35L373.09 358.94L373.41 358.52L373.73 358.08L374.05 357.64L374.37 357.18L374.69 356.71L375.01 356.23L375.33 355.75L375.65 355.25L375.97 354.75L376.29 354.24L376.61 353.71L376.93 353.17L377.26 352.63L377.58 352.07L377.9 351.53L378.22 350.96L378.54 350.32L378.86 349.55L379.18 348.68L379.5 347.72L379.82 346.75L380.14 345.93L380.46 344.58L380.78 342.4L381.1 336.4L381.1 284.8L381.1 284.8L381.35 336.4L381.55 361.4L382 367.2L382.7 367.8L383.1 367.6L384.6 366.4L385 367.51L385.32 367.29L385.64 367.05L385.96 366.79L386.28 366.5L386.6 366.2L386.92 365.88L387.24 365.55L387.56 365.21L387.88 364.84L388.2 364.47L388.52 364.1L388.84 363.74L389.17 363.38L389.49 363.02L389.81 362.65L390.13 362.27L390.45 361.86L390.77 361.44L391.09 361.01L391.41 360.58L391.73 360.16L392.05 359.75L392.37 359.35L392.69 358.94L393.01 358.52L393.33 358.08L393.65 357.64L393.97 357.18L394.29 356.71L394.61 356.23L394.93 355.75L395.25 355.25L395.57 354.75L395.89 354.24L396.21 353.71L396.53 353.17L396.86 352.63L397.18 352.07L397.5 351.53L397.82 350.96L398.14 350.32L398.46 349.55L398.78 348.68L399.1 347.72L399.42 346.75L399.74 345.93L400.06 344.58L400.38 342.4L400.7 336.4L400.7 284.8L400.7 284.8L400.95 336.4L401.15 361.4L401.6 367.2L402.3 367.8L402.7 367.6L404.2 366.4L404.6 367.51L404.92 367.29L405.24 367.05L405.56 366.79L405.88 366.5L406.2 366.2L406.52 365.88L406.84 365.55L407.16 365.21L407.48 364.84L407.8 364.47L408.12 364.1L408.44 363.74L408.77 363.38L409.09 363.02L409.41 362.65L409.73 362.27L410.05 361.86L410.37 361.44L410.69 361.01L411.01 360.58L411.33 360.16L411.65 359.75L411.97 359.35L412.29 358.94L412.61 358.52L412.93 358.08L413.25 357.64L413.57 357.18L413.89 356.71L414.21 356.23L414.53 355.75L414.85 355.25L415.17 354.75L415.49 354.24L415.81 353.71L416.13 353.17L416.46 352.63L416.78 352.07L417.1 351.53L417.42 350.96L417.74 350.32L418.06 349.55L418.38 348.68L418.7 347.72L419.02 346.75L419.34 345.93L419.66 344.58L419.98 342.4L420.3 336.4L420.3 284.8L420.3 284.8L420.55 336.4L420.75 361.4L421.2 367.2L421.9 367.8L422.3 367.6L423.8 366.4L424.2 367.51L424.52 367.29L424.84 367.05L425.16 366.79L425.48 366.5L425.8 366.2L426.12 365.88L426.44 365.55L426.76 365.21L427.08 364.84L427.4 364.47L427.72 364.1L428.04 363.74L428.37 363.38L428.69 363.02L429.01 362.65L429.33 362.27L429.65 361.86L429.97 361.44L430.29 361.01L430.61 360.58L430.93 360.16L431.25 359.75L431.57 359.35L431.89 358.94L432.21 358.52L432.53 358.08L432.85 357.64L433.17 357.18L433.49 356.71L433.81 356.23L434.13 355.75L434.45 355.25L434.77 354.75L435.09 354.24L435.41 353.71L435.73 353.17L436.06 352.63L436.38 352.07L436.7 351.53L437.02 350.96L437.34 350.32L437.66 349.55L437.98 348.68L438.3 347.72L438.62 346.75L438.94 345.93L439.26 344.58L439.58 342.4L439.9 336.4L439.9 284.8L439.9 284.8L440.15 336.4L440.35 361.4L440.8 367.2L441.5 367.8L441.9 367.6L443.4 366.4L443.8 367.51L444.12 367.29L444.44 367.05L444.76 366.79L445.08 366.5L445.4 366.2L445.72 365.88L446.04 365.55L446.36 365.21L446.68 364.84L447 364.47L447.32 364.1L447.64 363.74L447.97 363.38L448.29 363.02L448.61 362.65L448.93 362.27L449.25 361.86L449.57 361.44L449.89 361.01L450.21 360.58L450.53 360.16L450.85 359.75L451.17 359.35L451.49 358.94L451.81 358.52L452.13 358.08L452.45 357.64L452.77 357.18L453.09 356.71L453.41 356.23L453.73 355.75L454.05 355.25L454.37 354.75L454.69 354.24L455.01 353.71L455.33 353.17L455.66 352.63L455.98 352.07L456.3 351.53L456.62 350.96L456.94 350.32L457.26 349.55L457.58 348.68L457.9 347.72L458.22 346.75L458.54 345.93L458.86 344.58L459.18 342.4L459.5 336.4L459.5 284.8L459.5 284.8L459.75 336.4L459.95 361.4L460.4 367.2L461.1 367.8L461.5 367.6L463 366.4L463.4 367.51L463.72 367.29L464.04 367.05L464.36 366.79L464.68 366.5L465 366.2L465.32 365.88L465.64 365.55L465.96 365.21L466.28 364.84L466.6 364.47L466.92 364.1L467.24 363.74L467.57 363.38L467.89 363.02L468.21 362.65L468.53 362.27L468.85 361.86L469.17 361.44L469.49 361.01L469.81 360.58L470.13 360.16L470.45 359.75L470.77 359.35L471.09 358.94L471.41 358.52L471.73 358.08L472.05 357.64L472.37 357.18L472.69 356.71L473.01 356.23L473.33 355.75L473.65 355.25L473.97 354.75L474.29 354.24L474.61 353.71L474.93 353.17L475.26 352.63L475.58 352.07L475.9 351.53L476.22 350.96L476.54 350.32L476.86 349.55L477.18 348.68L477.5 347.72L477.82 346.75L478.14 345.93L478.46 344.58L478.78 342.4L479.1 336.4L479.1 284.8L479.1 284.8L479.35 336.4L479.55 361.4L480 367.2L480.7 367.8L481.1 367.6L482.6 366.4L483 367.51L483.32 367.29L483.64 367.05L483.96 366.79L484.28 366.5L484.6 366.2L484.92 365.88L485.24 365.55L485.56 365.21L485.88 364.84L486.2 364.47L486.52 364.1L486.84 363.74L487.17 363.38L487.49 363.02L487.81 362.65L488.13 362.27L488.45 361.86L488.77 361.44L489.09 361.01L489.41 360.58L489.73 360.16L490.05 359.75L490.37 359.35L490.69 358.94L491.01 358.52L491.33 358.08L491.65 357.64L491.97 357.18L492.29 356.71L492.61 356.23L492.93 355.75L493.25 355.25L493.57 354.75L493.89 354.24L494.21 353.71L494.53 353.17L494.86 352.63L495.18 352.07L495.5 351.53L495.82 350.96L496.14 350.32L496.46 349.55L496.78 348.68L497.1 347.72L497.42 346.75L497.74 345.93L498.06 344.58L498.38 342.4L498.7 336.4L498.7 284.8L498.7 284.8L498.95 336.4L499.15 361.4L499.6 367.2L500.3 367.8L500.7 367.6L502.2 366.4L502.6 367.51L502.92 367.29L503.24 367.05L503.56 366.79L503.88 366.5L504.2 366.2L504.52 365.88L504.84 365.55L505.16 365.21L505.48 364.84L505.8 364.47L506.12 364.1L506.44 363.74L506.77 363.38L507.09 363.02L507.41 362.65L507.73 362.27L508.05 361.86L508.37 361.44L508.69 361.01L509.01 360.58L509.33 360.16L509.65 359.75L509.97 359.35L510.29 358.94L510.61 358.52L510.93 358.08L511.25 357.64L511.57 357.18L511.89 356.71L512.21 356.23L512.53 355.75L512.85 355.25L513.17 354.75L513.49 354.24L513.81 353.71L514.13 353.17L514.46 352.63L514.78 352.07L515.1 351.53L515.42 350.96L515.74 350.32L516.06 349.55L516.38 348.68L516.7 347.72L517.02 346.75L517.34 345.93L517.66 344.58L517.98 342.4L518.3 336.4L518.3 284.8L518.3 284.8L518.55 336.4L518.75 361.4L519.2 367.2L519.9 367.8L520.3 367.6L521.8 366.4L522.2 367.51L522.52 367.29L522.84 367.05L523.16 366.79L523.48 366.5L523.8 366.2L524.12 365.88L524.44 365.55L524.76 365.21L525.08 364.84L525.4 364.47L525.72 364.1L526.04 363.74L526.37 363.38L526.69 363.02L527.01 362.65L527.33 362.27L527.65 361.86L527.97 361.44L528.29 361.01L528.61 360.58L528.93 360.16L529.25 359.75L529.57 359.35L529.89 358.94L530.21 358.52L530.53 358.08L530.85 357.64L531.17 357.18L531.49 356.71L531.81 356.23L532.13 355.75L532.45 355.25L532.77 354.75L533.09 354.24L533.41 353.71L533.73 353.17L534.06 352.63L534.38 352.07L534.7 351.53L535.02 350.96L535.34 350.32L535.66 349.55L535.98 348.68L536.3 347.72L536.62 346.75L536.94 345.93L537.26 344.58L537.58 342.4L537.9 336.4L537.9 284.8L537.9 284.8L538.15 336.4L538.35 361.4L538.8 367.2L539.5 367.8L539.9 367.6L541.4 366.4L541.8 367.51L542.12 367.29L542.44 367.05L542.76 366.79L543.08 366.5L543.4 366.2L543.72 365.88L544.04 365.55L544.36 365.21L544.68 364.84L545 364.47L545.32 364.1L545.64 363.74L545.97 363.38L546.29 363.02L546.61 362.65L546.93 362.27L547.25 361.86L547.57 361.44L547.89 361.01L548.21 360.58L548.53 360.16L548.85 359.75L549.17 359.35L549.49 358.94L549.81 358.52L550.13 358.08L550.45 357.64L550.77 357.18L551.09 356.71L551.41 356.23L551.73 355.75L552.05 355.25L552.37 354.75L552.69 354.24L553.01 353.71L553.33 353.17L553.66 352.63L553.98 352.07L554.3 351.53L554.62 350.96L554.94 350.32L555.26 349.55L555.58 348.68L555.9 347.72L556.22 346.75L556.54 345.93L556.86 344.58L557.18 342.4L557.5 336.4L557.5 284.8L557.5 284.8L557.75 336.4L557.95 361.4L558.4 367.2L559.1 367.8L559.5 367.6L561 366.4L561.4 367.51L561.72 367.29L562.04 367.05L562.36 366.79L562.68 366.5L563 366.2L563.32 365.88L563.64 365.55L563.96 365.21L564.28 364.84L564.6 364.47L564.92 364.1L565.24 363.74L565.57 363.38L565.89 363.02L566.21 362.65L566.53 362.27L566.85 361.86L567.17 361.44L567.49 361.01L567.81 360.58L568.13 360.16L568.45 359.75L568.77 359.35L569.09 358.94L569.41 358.52L569.73 358.08L570.05 357.64L570.37 357.18L570.69 356.71L571.01 356.23L571.33 355.75L571.65 355.25L571.97 354.75L572.29 354.24L572.61 353.71L572.93 353.17L573.26 352.63L573.58 352.07L573.9 351.53L574.22 350.96L574.54 350.32L574.86 349.55L575.18 348.68L575.5 347.72L575.82 346.75L576.14 345.93L576.46 344.58L576.78 342.4L577.1 336.4L577.1 284.8L577.1 284.8L577.35 336.4L577.55 361.4L578 367.2L578.7 367.8L579.1 367.6L580.6 366.4L581 367.51L581.32 367.29L581.64 367.05L581.96 366.79L582.28 366.5L582.6 366.2L582.92 365.88L583.24 365.55L583.56 365.21L583.88 364.84L584.2 364.47L584.52 364.1L584.84 363.74L585.17 363.38L585.49 363.02L585.81 362.65L586.13 362.27L586.45 361.86L586.77 361.44L587.09 361.01L587.41 360.58L587.73 360.16L588.05 359.75L588.37 359.35L588.69 358.94L589.01 358.52L589.33 358.08L589.65 357.64L589.97 357.18L590.29 356.71L590.61 356.23L590.93 355.75L591.25 355.25L591.57 354.75L591.89 354.24L592.21 353.71L592.53 353.17L592.86 352.63L593.18 352.07L593.5 351.53L593.82 350.96L594.14 350.32L594.46 349.55L594.78 348.68L595.1 347.72L595.42 346.75L595.74 345.93L596.06 344.58L596.38 342.4L596.7 336.4L596.7 284.8L596.7 284.8L596.95 336.4L597.15 361.4L597.6 367.2L598.3 367.8L598.7 367.6L600.2 366.4L600.6 367.51L600.92 367.29L601.24 367.05L601.56 366.79L601.88 366.5L602.2 366.2L602.52 365.88L602.84 365.55L603.16 365.21L603.48 364.84L603.8 364.47L604.12 364.1L604.44 363.74L604.77 363.38L605.09 363.02L605.41 362.65L605.73 362.27L606.05 361.86L606.37 361.44L606.69 361.01L607.01 360.58L607.33 360.16L607.65 359.75L607.97 359.35L608.29 358.94L608.61 358.52L608.93 358.08L609.25 357.64L609.57 357.18L609.89 356.71L610.21 356.23L610.53 355.75L610.85 355.25L611.17 354.75L611.49 354.24L611.81 353.71L612.13 353.17L612.46 352.63L612.78 352.07L613.1 351.53L613.1 351.52" class="b"/>
<path d="M179.1 381.4v-6M179.1 272.95v6M287.6 381.4v-6M287.6 272.95v6M396.1 381.4v-6M396.1 272.95v6M504.6 381.4v-6M504.6 272.95v6M70.6 375.38h3 M613.1 375.38h-3M70.6 369.35h3 M613.1 369.35h-3M70.6 363.32h3 M613.1 363.32h-3M70.6 357.3h6 M613.1 357.3h-6M70.6 351.27h3 M613.1 351.27h-3M70.6 345.25h3 M613.1 345.25h-3M70.6 339.22h3 M613.1 339.22h-3M70.6 333.2h6 M613.1 333.2h-6M70.6 327.17h3 M613.1 327.17h-3M70.6 321.15h3 M613.1 321.15h-3M70.6 315.12h3 M613.1 315.12h-3M70.6 309.1h6 M613.1 309.1h-6M70.6 303.07h3 M613.1 303.07h-3M70.6 297.05h3 M613.1 297.05h-3M70.6 291.02h3 M613.1 291.02h-3M70.6 285h6 M613.1 285h-6M70.6 278.97h3 M613.1 278.97h-3" class="k"/>
<rect x="70.6" y="272.95" width="542.5" height="108.45" class="k"/>
<text transform="translate(60.6 292.5) rotate(0.1)" text-anchor="end">10<tspan dy="-8.0" font-size="13.1">8</tspan></text>
<text transform="translate(60.6 316.6) rotate(0.1)" text-anchor="end">10<tspan dy="-8.0" font-size="13.1">4</tspan></text>
<text transform="translate(60.6 340.7) rotate(0.1)" text-anchor="end">10<tspan dy="-8.0" font-size="13.1">0</tspan></text>
<text transform="translate(60.6 364.8) rotate(0.1)" text-anchor="end">10<tspan dy="-8.0" font-size="13.1">-4</tspan></text>
<text transform="translate(60.6 388.9) rotate(0.1)" text-anchor="end">10<tspan dy="-8.0" font-size="13.1">-8</tspan></text>
<text transform="translate(72.8 403.5) rotate(0.1)" text-anchor="middle">95000</text>
<text transform="translate(181.3 403.5) rotate(0.1)" text-anchor="middle">96000</text>
<text transform="translate(289.8 403.5) rotate(0.1)" text-anchor="middle">97000</text>
<text transform="translate(398.3 403.5) rotate(0.1)" text-anchor="middle">98000</text>
<text transform="translate(506.8 403.5) rotate(0.1)" text-anchor="middle">99000</text>
<text transform="translate(615.3 403.5) rotate(0.1)" text-anchor="middle">100000</text>
<text transform="translate(342 427.8) rotate(0.1)" text-anchor="middle">time [year]</text>
<text transform="translate(17 327.17) rotate(-90)" text-anchor="middle">V/V<tspan dy="4.6" font-size="13.1">p</tspan></text>
<text transform="translate(95.9 221) rotate(0.1)">V<tspan dy="4.6" font-size="13.1">1</tspan><tspan dy="-4.6">/V</tspan><tspan dy="4.6" font-size="13.1">p</tspan></text>
<path d="M146 217.5H190.9" class="r"/>
<text transform="translate(95.9 237) rotate(0.1)">V<tspan dy="4.6" font-size="13.1">2</tspan><tspan dy="-4.6">/V</tspan><tspan dy="4.6" font-size="13.1">p</tspan></text>
<path d="M146 233.5H190.9" class="b"/>
</svg>
</body></html>
